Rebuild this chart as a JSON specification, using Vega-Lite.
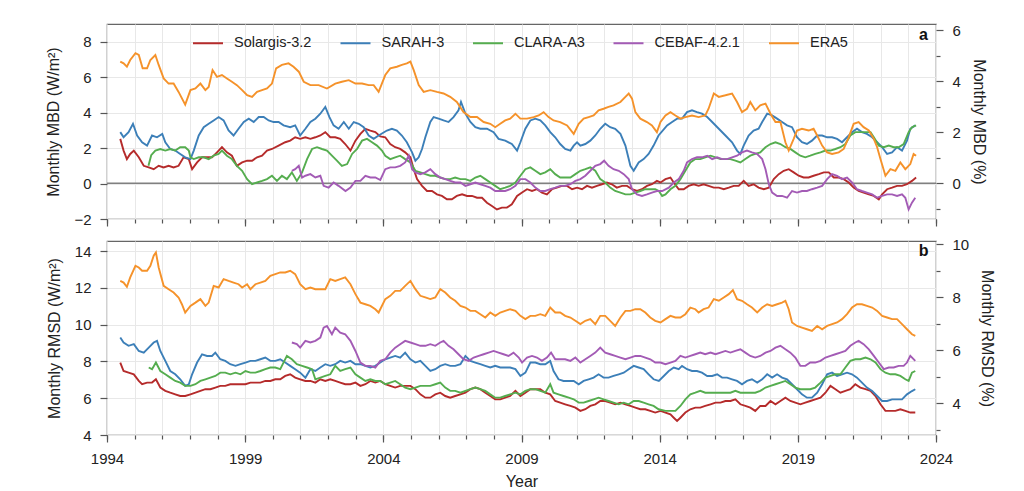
{
"$schema": "https://vega.github.io/schema/vega-lite/v6.json",
"padding": {"left": 45, "top": 22, "right": 5, "bottom": 0},
"spacing": 8,
"config": {
  "font": "Liberation Sans",
  "view": {"stroke": "#666", "strokeWidth": 1.2},
  "axis": {"labelFont": "Liberation Sans", "labelFontSize": 15, "labelColor": "#222", "labelFlush": false, "titleFont": "Liberation Sans", "titleFontSize": 16, "titleFontWeight": "normal", "titleColor": "#222", "tickColor": "#555", "tickWidth": 1.2, "domain": false, "gridColor": "#e8e8e8", "gridWidth": 1}
},
"datasets": {
"mbd": [
{"src":"Solargis-3.2","year":1994.48,"v":2.52},{"src":"Solargis-3.2","year":1994.6,"v":1.86},{"src":"Solargis-3.2","year":1994.72,"v":1.38},{"src":"Solargis-3.2","year":1994.84,"v":1.67},{"src":"Solargis-3.2","year":1994.97,"v":1.86},{"src":"Solargis-3.2","year":1995.15,"v":1.48},{"src":"Solargis-3.2","year":1995.33,"v":1.0},{"src":"Solargis-3.2","year":1995.51,"v":0.91},{"src":"Solargis-3.2","year":1995.69,"v":0.81},{"src":"Solargis-3.2","year":1995.87,"v":1.0},{"src":"Solargis-3.2","year":1996.05,"v":0.91},{"src":"Solargis-3.2","year":1996.23,"v":1.0},{"src":"Solargis-3.2","year":1996.41,"v":0.91},{"src":"Solargis-3.2","year":1996.59,"v":1.0},{"src":"Solargis-3.2","year":1996.77,"v":1.48},{"src":"Solargis-3.2","year":1996.96,"v":1.38},{"src":"Solargis-3.2","year":1997.08,"v":0.81},{"src":"Solargis-3.2","year":1997.26,"v":1.19},{"src":"Solargis-3.2","year":1997.44,"v":1.48},{"src":"Solargis-3.2","year":1997.62,"v":1.48},{"src":"Solargis-3.2","year":1997.8,"v":1.48},{"src":"Solargis-3.2","year":1997.98,"v":1.76},{"src":"Solargis-3.2","year":1998.16,"v":2.05},{"src":"Solargis-3.2","year":1998.34,"v":1.76},{"src":"Solargis-3.2","year":1998.52,"v":1.57},{"src":"Solargis-3.2","year":1998.7,"v":1.0},{"src":"Solargis-3.2","year":1998.89,"v":1.19},{"src":"Solargis-3.2","year":1999.07,"v":1.29},{"src":"Solargis-3.2","year":1999.25,"v":1.29},{"src":"Solargis-3.2","year":1999.43,"v":1.48},{"src":"Solargis-3.2","year":1999.61,"v":1.57},{"src":"Solargis-3.2","year":1999.79,"v":1.86},{"src":"Solargis-3.2","year":1999.97,"v":1.95},{"src":"Solargis-3.2","year":2000.21,"v":2.14},{"src":"Solargis-3.2","year":2000.45,"v":2.33},{"src":"Solargis-3.2","year":2000.63,"v":2.42},{"src":"Solargis-3.2","year":2000.81,"v":2.61},{"src":"Solargis-3.2","year":2000.99,"v":2.52},{"src":"Solargis-3.2","year":2001.18,"v":2.61},{"src":"Solargis-3.2","year":2001.36,"v":2.52},{"src":"Solargis-3.2","year":2001.54,"v":2.61},{"src":"Solargis-3.2","year":2001.72,"v":2.71},{"src":"Solargis-3.2","year":2001.9,"v":2.9},{"src":"Solargis-3.2","year":2002.08,"v":2.61},{"src":"Solargis-3.2","year":2002.26,"v":2.61},{"src":"Solargis-3.2","year":2002.44,"v":2.52},{"src":"Solargis-3.2","year":2002.62,"v":2.23},{"src":"Solargis-3.2","year":2002.81,"v":1.86},{"src":"Solargis-3.2","year":2002.99,"v":2.42},{"src":"Solargis-3.2","year":2003.17,"v":2.8},{"src":"Solargis-3.2","year":2003.35,"v":3.09},{"src":"Solargis-3.2","year":2003.53,"v":2.99},{"src":"Solargis-3.2","year":2003.71,"v":2.9},{"src":"Solargis-3.2","year":2003.89,"v":2.66},{"src":"Solargis-3.2","year":2004.07,"v":2.61},{"src":"Solargis-3.2","year":2004.25,"v":2.23},{"src":"Solargis-3.2","year":2004.43,"v":2.05},{"src":"Solargis-3.2","year":2004.61,"v":1.95},{"src":"Solargis-3.2","year":2004.79,"v":1.76},{"src":"Solargis-3.2","year":2004.98,"v":1.48},{"src":"Solargis-3.2","year":2005.1,"v":0.81},{"src":"Solargis-3.2","year":2005.22,"v":0.25},{"src":"Solargis-3.2","year":2005.4,"v":-0.13},{"src":"Solargis-3.2","year":2005.58,"v":-0.42},{"src":"Solargis-3.2","year":2005.76,"v":-0.42},{"src":"Solargis-3.2","year":2005.94,"v":-0.61},{"src":"Solargis-3.2","year":2006.12,"v":-0.7},{"src":"Solargis-3.2","year":2006.3,"v":-0.89},{"src":"Solargis-3.2","year":2006.48,"v":-0.89},{"src":"Solargis-3.2","year":2006.66,"v":-0.7},{"src":"Solargis-3.2","year":2006.85,"v":-0.61},{"src":"Solargis-3.2","year":2007.03,"v":-0.7},{"src":"Solargis-3.2","year":2007.21,"v":-0.7},{"src":"Solargis-3.2","year":2007.39,"v":-0.8},{"src":"Solargis-3.2","year":2007.57,"v":-0.8},{"src":"Solargis-3.2","year":2007.75,"v":-1.08},{"src":"Solargis-3.2","year":2007.93,"v":-1.27},{"src":"Solargis-3.2","year":2008.11,"v":-1.46},{"src":"Solargis-3.2","year":2008.29,"v":-1.36},{"src":"Solargis-3.2","year":2008.47,"v":-1.36},{"src":"Solargis-3.2","year":2008.65,"v":-1.17},{"src":"Solargis-3.2","year":2008.84,"v":-0.7},{"src":"Solargis-3.2","year":2009.02,"v":-0.51},{"src":"Solargis-3.2","year":2009.2,"v":-0.32},{"src":"Solargis-3.2","year":2009.38,"v":-0.42},{"src":"Solargis-3.2","year":2009.56,"v":-0.32},{"src":"Solargis-3.2","year":2009.74,"v":-0.51},{"src":"Solargis-3.2","year":2009.92,"v":-0.61},{"src":"Solargis-3.2","year":2010.1,"v":-0.32},{"src":"Solargis-3.2","year":2010.28,"v":-0.23},{"src":"Solargis-3.2","year":2010.46,"v":-0.13},{"src":"Solargis-3.2","year":2010.65,"v":-0.13},{"src":"Solargis-3.2","year":2010.83,"v":-0.32},{"src":"Solargis-3.2","year":2011.01,"v":-0.23},{"src":"Solargis-3.2","year":2011.19,"v":-0.32},{"src":"Solargis-3.2","year":2011.37,"v":-0.13},{"src":"Solargis-3.2","year":2011.55,"v":-0.23},{"src":"Solargis-3.2","year":2011.73,"v":-0.13},{"src":"Solargis-3.2","year":2011.91,"v":-0.04},{"src":"Solargis-3.2","year":2012.09,"v":0.06},{"src":"Solargis-3.2","year":2012.27,"v":-0.04},{"src":"Solargis-3.2","year":2012.45,"v":-0.23},{"src":"Solargis-3.2","year":2012.64,"v":-0.13},{"src":"Solargis-3.2","year":2012.82,"v":-0.13},{"src":"Solargis-3.2","year":2013.0,"v":-0.32},{"src":"Solargis-3.2","year":2013.18,"v":-0.42},{"src":"Solargis-3.2","year":2013.36,"v":-0.32},{"src":"Solargis-3.2","year":2013.54,"v":-0.13},{"src":"Solargis-3.2","year":2013.72,"v":-0.04},{"src":"Solargis-3.2","year":2013.9,"v":0.15},{"src":"Solargis-3.2","year":2014.03,"v":0.06},{"src":"Solargis-3.2","year":2014.21,"v":0.25},{"src":"Solargis-3.2","year":2014.39,"v":0.34},{"src":"Solargis-3.2","year":2014.51,"v":0.06},{"src":"Solargis-3.2","year":2014.69,"v":-0.32},{"src":"Solargis-3.2","year":2014.87,"v":-0.32},{"src":"Solargis-3.2","year":2015.05,"v":-0.13},{"src":"Solargis-3.2","year":2015.23,"v":-0.04},{"src":"Solargis-3.2","year":2015.41,"v":-0.13},{"src":"Solargis-3.2","year":2015.59,"v":-0.04},{"src":"Solargis-3.2","year":2015.77,"v":-0.13},{"src":"Solargis-3.2","year":2015.96,"v":-0.23},{"src":"Solargis-3.2","year":2016.14,"v":-0.23},{"src":"Solargis-3.2","year":2016.32,"v":-0.32},{"src":"Solargis-3.2","year":2016.5,"v":-0.23},{"src":"Solargis-3.2","year":2016.68,"v":-0.13},{"src":"Solargis-3.2","year":2016.86,"v":-0.13},{"src":"Solargis-3.2","year":2017.04,"v":0.15},{"src":"Solargis-3.2","year":2017.22,"v":-0.13},{"src":"Solargis-3.2","year":2017.4,"v":-0.04},{"src":"Solargis-3.2","year":2017.58,"v":-0.23},{"src":"Solargis-3.2","year":2017.77,"v":-0.32},{"src":"Solargis-3.2","year":2017.95,"v":-0.23},{"src":"Solargis-3.2","year":2018.13,"v":0.25},{"src":"Solargis-3.2","year":2018.31,"v":0.53},{"src":"Solargis-3.2","year":2018.49,"v":0.72},{"src":"Solargis-3.2","year":2018.67,"v":0.81},{"src":"Solargis-3.2","year":2018.85,"v":0.63},{"src":"Solargis-3.2","year":2019.03,"v":0.44},{"src":"Solargis-3.2","year":2019.21,"v":0.34},{"src":"Solargis-3.2","year":2019.39,"v":0.34},{"src":"Solargis-3.2","year":2019.57,"v":0.44},{"src":"Solargis-3.2","year":2019.76,"v":0.53},{"src":"Solargis-3.2","year":2019.94,"v":0.63},{"src":"Solargis-3.2","year":2020.12,"v":0.63},{"src":"Solargis-3.2","year":2020.3,"v":0.34},{"src":"Solargis-3.2","year":2020.48,"v":0.34},{"src":"Solargis-3.2","year":2020.66,"v":0.25},{"src":"Solargis-3.2","year":2020.84,"v":0.06},{"src":"Solargis-3.2","year":2021.02,"v":-0.23},{"src":"Solargis-3.2","year":2021.2,"v":-0.42},{"src":"Solargis-3.2","year":2021.38,"v":-0.51},{"src":"Solargis-3.2","year":2021.57,"v":-0.61},{"src":"Solargis-3.2","year":2021.75,"v":-0.7},{"src":"Solargis-3.2","year":2021.93,"v":-0.89},{"src":"Solargis-3.2","year":2022.05,"v":-0.61},{"src":"Solargis-3.2","year":2022.23,"v":-0.32},{"src":"Solargis-3.2","year":2022.41,"v":-0.23},{"src":"Solargis-3.2","year":2022.59,"v":-0.13},{"src":"Solargis-3.2","year":2022.77,"v":-0.13},{"src":"Solargis-3.2","year":2022.95,"v":-0.04},{"src":"Solargis-3.2","year":2023.13,"v":0.15},{"src":"Solargis-3.2","year":2023.28,"v":0.34},
{"src":"SARAH-3","year":1994.48,"v":2.9},{"src":"SARAH-3","year":1994.6,"v":2.61},{"src":"SARAH-3","year":1994.78,"v":2.9},{"src":"SARAH-3","year":1994.94,"v":3.37},{"src":"SARAH-3","year":1995.09,"v":2.71},{"src":"SARAH-3","year":1995.27,"v":2.33},{"src":"SARAH-3","year":1995.45,"v":2.14},{"src":"SARAH-3","year":1995.63,"v":2.71},{"src":"SARAH-3","year":1995.81,"v":2.61},{"src":"SARAH-3","year":1996.0,"v":2.8},{"src":"SARAH-3","year":1996.11,"v":2.33},{"src":"SARAH-3","year":1996.29,"v":1.95},{"src":"SARAH-3","year":1996.47,"v":1.86},{"src":"SARAH-3","year":1996.65,"v":1.67},{"src":"SARAH-3","year":1996.83,"v":1.48},{"src":"SARAH-3","year":1997.02,"v":1.38},{"src":"SARAH-3","year":1997.14,"v":1.86},{"src":"SARAH-3","year":1997.32,"v":2.71},{"src":"SARAH-3","year":1997.5,"v":3.18},{"src":"SARAH-3","year":1997.68,"v":3.37},{"src":"SARAH-3","year":1997.86,"v":3.56},{"src":"SARAH-3","year":1998.04,"v":3.75},{"src":"SARAH-3","year":1998.22,"v":3.56},{"src":"SARAH-3","year":1998.4,"v":2.99},{"src":"SARAH-3","year":1998.58,"v":2.71},{"src":"SARAH-3","year":1998.76,"v":3.09},{"src":"SARAH-3","year":1998.95,"v":3.47},{"src":"SARAH-3","year":1999.13,"v":3.66},{"src":"SARAH-3","year":1999.31,"v":3.47},{"src":"SARAH-3","year":1999.49,"v":3.75},{"src":"SARAH-3","year":1999.67,"v":3.75},{"src":"SARAH-3","year":1999.85,"v":3.56},{"src":"SARAH-3","year":2000.03,"v":3.47},{"src":"SARAH-3","year":2000.21,"v":3.47},{"src":"SARAH-3","year":2000.39,"v":3.28},{"src":"SARAH-3","year":2000.63,"v":3.18},{"src":"SARAH-3","year":2000.81,"v":3.28},{"src":"SARAH-3","year":2000.99,"v":2.71},{"src":"SARAH-3","year":2001.18,"v":3.09},{"src":"SARAH-3","year":2001.36,"v":3.47},{"src":"SARAH-3","year":2001.54,"v":3.66},{"src":"SARAH-3","year":2001.72,"v":3.94},{"src":"SARAH-3","year":2001.9,"v":4.32},{"src":"SARAH-3","year":2002.05,"v":3.75},{"src":"SARAH-3","year":2002.2,"v":3.28},{"src":"SARAH-3","year":2002.38,"v":3.09},{"src":"SARAH-3","year":2002.57,"v":3.47},{"src":"SARAH-3","year":2002.75,"v":3.09},{"src":"SARAH-3","year":2002.93,"v":3.47},{"src":"SARAH-3","year":2003.11,"v":3.37},{"src":"SARAH-3","year":2003.29,"v":3.18},{"src":"SARAH-3","year":2003.47,"v":2.71},{"src":"SARAH-3","year":2003.65,"v":2.52},{"src":"SARAH-3","year":2003.83,"v":2.71},{"src":"SARAH-3","year":2004.13,"v":2.99},{"src":"SARAH-3","year":2004.31,"v":3.09},{"src":"SARAH-3","year":2004.49,"v":2.99},{"src":"SARAH-3","year":2004.67,"v":2.71},{"src":"SARAH-3","year":2004.85,"v":2.33},{"src":"SARAH-3","year":2005.04,"v":1.76},{"src":"SARAH-3","year":2005.16,"v":1.29},{"src":"SARAH-3","year":2005.28,"v":1.48},{"src":"SARAH-3","year":2005.4,"v":1.95},{"src":"SARAH-3","year":2005.52,"v":2.61},{"src":"SARAH-3","year":2005.7,"v":3.47},{"src":"SARAH-3","year":2005.82,"v":3.75},{"src":"SARAH-3","year":2006.0,"v":3.66},{"src":"SARAH-3","year":2006.18,"v":3.56},{"src":"SARAH-3","year":2006.36,"v":3.47},{"src":"SARAH-3","year":2006.54,"v":3.75},{"src":"SARAH-3","year":2006.72,"v":4.13},{"src":"SARAH-3","year":2006.81,"v":4.6},{"src":"SARAH-3","year":2006.97,"v":3.94},{"src":"SARAH-3","year":2007.15,"v":3.47},{"src":"SARAH-3","year":2007.33,"v":3.18},{"src":"SARAH-3","year":2007.51,"v":3.09},{"src":"SARAH-3","year":2007.75,"v":3.09},{"src":"SARAH-3","year":2007.99,"v":2.9},{"src":"SARAH-3","year":2008.17,"v":2.52},{"src":"SARAH-3","year":2008.41,"v":2.42},{"src":"SARAH-3","year":2008.65,"v":2.23},{"src":"SARAH-3","year":2008.84,"v":1.86},{"src":"SARAH-3","year":2008.96,"v":2.33},{"src":"SARAH-3","year":2009.14,"v":3.09},{"src":"SARAH-3","year":2009.32,"v":3.56},{"src":"SARAH-3","year":2009.5,"v":3.66},{"src":"SARAH-3","year":2009.68,"v":3.56},{"src":"SARAH-3","year":2009.86,"v":3.28},{"src":"SARAH-3","year":2010.04,"v":2.9},{"src":"SARAH-3","year":2010.22,"v":2.61},{"src":"SARAH-3","year":2010.4,"v":2.23},{"src":"SARAH-3","year":2010.58,"v":1.95},{"src":"SARAH-3","year":2010.77,"v":1.86},{"src":"SARAH-3","year":2010.89,"v":2.14},{"src":"SARAH-3","year":2011.01,"v":2.33},{"src":"SARAH-3","year":2011.13,"v":2.14},{"src":"SARAH-3","year":2011.31,"v":2.23},{"src":"SARAH-3","year":2011.49,"v":2.42},{"src":"SARAH-3","year":2011.67,"v":2.71},{"src":"SARAH-3","year":2011.85,"v":3.09},{"src":"SARAH-3","year":2012.03,"v":3.37},{"src":"SARAH-3","year":2012.21,"v":3.18},{"src":"SARAH-3","year":2012.39,"v":3.09},{"src":"SARAH-3","year":2012.58,"v":2.8},{"src":"SARAH-3","year":2012.76,"v":2.14},{"src":"SARAH-3","year":2012.94,"v":1.0},{"src":"SARAH-3","year":2013.06,"v":0.72},{"src":"SARAH-3","year":2013.24,"v":1.19},{"src":"SARAH-3","year":2013.42,"v":1.38},{"src":"SARAH-3","year":2013.6,"v":1.67},{"src":"SARAH-3","year":2013.78,"v":2.14},{"src":"SARAH-3","year":2013.96,"v":2.71},{"src":"SARAH-3","year":2014.27,"v":3.28},{"src":"SARAH-3","year":2014.45,"v":3.47},{"src":"SARAH-3","year":2014.63,"v":3.66},{"src":"SARAH-3","year":2014.81,"v":3.66},{"src":"SARAH-3","year":2014.99,"v":4.03},{"src":"SARAH-3","year":2015.17,"v":4.13},{"src":"SARAH-3","year":2015.35,"v":4.03},{"src":"SARAH-3","year":2015.53,"v":3.94},{"src":"SARAH-3","year":2015.72,"v":3.75},{"src":"SARAH-3","year":2015.9,"v":3.47},{"src":"SARAH-3","year":2016.14,"v":3.09},{"src":"SARAH-3","year":2016.38,"v":2.71},{"src":"SARAH-3","year":2016.62,"v":2.33},{"src":"SARAH-3","year":2016.8,"v":1.86},{"src":"SARAH-3","year":2016.92,"v":1.67},{"src":"SARAH-3","year":2017.04,"v":2.14},{"src":"SARAH-3","year":2017.22,"v":2.71},{"src":"SARAH-3","year":2017.4,"v":2.99},{"src":"SARAH-3","year":2017.58,"v":3.09},{"src":"SARAH-3","year":2017.71,"v":3.47},{"src":"SARAH-3","year":2017.89,"v":3.94},{"src":"SARAH-3","year":2018.07,"v":3.84},{"src":"SARAH-3","year":2018.25,"v":3.66},{"src":"SARAH-3","year":2018.43,"v":3.47},{"src":"SARAH-3","year":2018.61,"v":3.28},{"src":"SARAH-3","year":2018.79,"v":3.18},{"src":"SARAH-3","year":2018.97,"v":2.61},{"src":"SARAH-3","year":2019.15,"v":2.33},{"src":"SARAH-3","year":2019.33,"v":2.23},{"src":"SARAH-3","year":2019.51,"v":2.42},{"src":"SARAH-3","year":2019.7,"v":2.71},{"src":"SARAH-3","year":2019.88,"v":2.71},{"src":"SARAH-3","year":2020.06,"v":2.61},{"src":"SARAH-3","year":2020.24,"v":2.61},{"src":"SARAH-3","year":2020.42,"v":2.52},{"src":"SARAH-3","year":2020.6,"v":2.33},{"src":"SARAH-3","year":2020.78,"v":2.61},{"src":"SARAH-3","year":2020.96,"v":2.9},{"src":"SARAH-3","year":2021.14,"v":3.09},{"src":"SARAH-3","year":2021.32,"v":2.9},{"src":"SARAH-3","year":2021.5,"v":2.8},{"src":"SARAH-3","year":2021.69,"v":2.61},{"src":"SARAH-3","year":2021.87,"v":2.33},{"src":"SARAH-3","year":2022.05,"v":2.05},{"src":"SARAH-3","year":2022.23,"v":1.67},{"src":"SARAH-3","year":2022.41,"v":1.76},{"src":"SARAH-3","year":2022.59,"v":2.05},{"src":"SARAH-3","year":2022.77,"v":1.86},{"src":"SARAH-3","year":2022.95,"v":2.42},{"src":"SARAH-3","year":2023.07,"v":3.09},{"src":"SARAH-3","year":2023.25,"v":3.28},
{"src":"CLARA-A3","year":1995.5,"v":1.0},{"src":"CLARA-A3","year":1995.6,"v":1.6},{"src":"CLARA-A3","year":1995.75,"v":1.86},{"src":"CLARA-A3","year":1995.93,"v":1.95},{"src":"CLARA-A3","year":1996.11,"v":1.86},{"src":"CLARA-A3","year":1996.29,"v":1.95},{"src":"CLARA-A3","year":1996.47,"v":1.86},{"src":"CLARA-A3","year":1996.65,"v":2.05},{"src":"CLARA-A3","year":1996.83,"v":2.05},{"src":"CLARA-A3","year":1996.96,"v":1.86},{"src":"CLARA-A3","year":1997.02,"v":1.48},{"src":"CLARA-A3","year":1997.14,"v":1.38},{"src":"CLARA-A3","year":1997.32,"v":1.48},{"src":"CLARA-A3","year":1997.5,"v":1.48},{"src":"CLARA-A3","year":1997.68,"v":1.38},{"src":"CLARA-A3","year":1997.86,"v":1.57},{"src":"CLARA-A3","year":1998.04,"v":1.67},{"src":"CLARA-A3","year":1998.16,"v":1.86},{"src":"CLARA-A3","year":1998.34,"v":1.57},{"src":"CLARA-A3","year":1998.52,"v":1.38},{"src":"CLARA-A3","year":1998.7,"v":1.0},{"src":"CLARA-A3","year":1998.89,"v":0.72},{"src":"CLARA-A3","year":1999.07,"v":0.25},{"src":"CLARA-A3","year":1999.25,"v":-0.04},{"src":"CLARA-A3","year":1999.43,"v":0.06},{"src":"CLARA-A3","year":1999.61,"v":0.15},{"src":"CLARA-A3","year":1999.79,"v":0.25},{"src":"CLARA-A3","year":1999.97,"v":0.44},{"src":"CLARA-A3","year":2000.15,"v":0.15},{"src":"CLARA-A3","year":2000.33,"v":0.44},{"src":"CLARA-A3","year":2000.51,"v":0.25},{"src":"CLARA-A3","year":2000.69,"v":0.63},{"src":"CLARA-A3","year":2000.87,"v":0.15},{"src":"CLARA-A3","year":2001.06,"v":0.63},{"src":"CLARA-A3","year":2001.24,"v":1.38},{"src":"CLARA-A3","year":2001.42,"v":1.95},{"src":"CLARA-A3","year":2001.6,"v":2.05},{"src":"CLARA-A3","year":2001.78,"v":1.95},{"src":"CLARA-A3","year":2001.96,"v":1.86},{"src":"CLARA-A3","year":2002.14,"v":1.57},{"src":"CLARA-A3","year":2002.32,"v":1.29},{"src":"CLARA-A3","year":2002.5,"v":1.0},{"src":"CLARA-A3","year":2002.69,"v":1.1},{"src":"CLARA-A3","year":2002.87,"v":1.67},{"src":"CLARA-A3","year":2003.05,"v":1.95},{"src":"CLARA-A3","year":2003.23,"v":2.42},{"src":"CLARA-A3","year":2003.41,"v":2.52},{"src":"CLARA-A3","year":2003.59,"v":2.33},{"src":"CLARA-A3","year":2003.77,"v":2.14},{"src":"CLARA-A3","year":2003.95,"v":1.86},{"src":"CLARA-A3","year":2004.07,"v":1.57},{"src":"CLARA-A3","year":2004.25,"v":1.38},{"src":"CLARA-A3","year":2004.43,"v":1.48},{"src":"CLARA-A3","year":2004.61,"v":1.57},{"src":"CLARA-A3","year":2004.79,"v":1.38},{"src":"CLARA-A3","year":2004.98,"v":1.19},{"src":"CLARA-A3","year":2005.16,"v":0.72},{"src":"CLARA-A3","year":2005.34,"v":0.63},{"src":"CLARA-A3","year":2005.52,"v":0.53},{"src":"CLARA-A3","year":2005.7,"v":0.44},{"src":"CLARA-A3","year":2005.88,"v":0.44},{"src":"CLARA-A3","year":2006.06,"v":0.34},{"src":"CLARA-A3","year":2006.24,"v":0.25},{"src":"CLARA-A3","year":2006.42,"v":0.25},{"src":"CLARA-A3","year":2006.6,"v":0.34},{"src":"CLARA-A3","year":2006.79,"v":0.25},{"src":"CLARA-A3","year":2006.97,"v":0.25},{"src":"CLARA-A3","year":2007.15,"v":0.15},{"src":"CLARA-A3","year":2007.33,"v":0.34},{"src":"CLARA-A3","year":2007.51,"v":0.44},{"src":"CLARA-A3","year":2007.69,"v":0.25},{"src":"CLARA-A3","year":2007.87,"v":0.06},{"src":"CLARA-A3","year":2008.05,"v":-0.13},{"src":"CLARA-A3","year":2008.23,"v":-0.32},{"src":"CLARA-A3","year":2008.41,"v":-0.23},{"src":"CLARA-A3","year":2008.59,"v":-0.13},{"src":"CLARA-A3","year":2008.78,"v":0.06},{"src":"CLARA-A3","year":2008.96,"v":0.44},{"src":"CLARA-A3","year":2009.14,"v":0.81},{"src":"CLARA-A3","year":2009.32,"v":0.91},{"src":"CLARA-A3","year":2009.5,"v":0.72},{"src":"CLARA-A3","year":2009.68,"v":0.53},{"src":"CLARA-A3","year":2009.86,"v":0.63},{"src":"CLARA-A3","year":2010.04,"v":0.81},{"src":"CLARA-A3","year":2010.22,"v":0.53},{"src":"CLARA-A3","year":2010.4,"v":0.34},{"src":"CLARA-A3","year":2010.58,"v":0.34},{"src":"CLARA-A3","year":2010.77,"v":0.34},{"src":"CLARA-A3","year":2010.95,"v":0.53},{"src":"CLARA-A3","year":2011.13,"v":0.72},{"src":"CLARA-A3","year":2011.31,"v":0.81},{"src":"CLARA-A3","year":2011.49,"v":0.91},{"src":"CLARA-A3","year":2011.67,"v":0.72},{"src":"CLARA-A3","year":2011.85,"v":0.25},{"src":"CLARA-A3","year":2012.03,"v":0.06},{"src":"CLARA-A3","year":2012.21,"v":-0.23},{"src":"CLARA-A3","year":2012.39,"v":-0.42},{"src":"CLARA-A3","year":2012.58,"v":-0.51},{"src":"CLARA-A3","year":2012.76,"v":-0.61},{"src":"CLARA-A3","year":2012.94,"v":-0.61},{"src":"CLARA-A3","year":2013.12,"v":-0.51},{"src":"CLARA-A3","year":2013.3,"v":-0.42},{"src":"CLARA-A3","year":2013.48,"v":-0.32},{"src":"CLARA-A3","year":2013.66,"v":-0.32},{"src":"CLARA-A3","year":2013.84,"v":-0.32},{"src":"CLARA-A3","year":2013.97,"v":-0.42},{"src":"CLARA-A3","year":2014.09,"v":-0.7},{"src":"CLARA-A3","year":2014.21,"v":-0.61},{"src":"CLARA-A3","year":2014.39,"v":-0.32},{"src":"CLARA-A3","year":2014.57,"v":-0.13},{"src":"CLARA-A3","year":2014.75,"v":0.25},{"src":"CLARA-A3","year":2014.93,"v":0.72},{"src":"CLARA-A3","year":2015.11,"v":1.19},{"src":"CLARA-A3","year":2015.29,"v":1.38},{"src":"CLARA-A3","year":2015.47,"v":1.38},{"src":"CLARA-A3","year":2015.65,"v":1.48},{"src":"CLARA-A3","year":2015.84,"v":1.57},{"src":"CLARA-A3","year":2016.02,"v":1.48},{"src":"CLARA-A3","year":2016.2,"v":1.38},{"src":"CLARA-A3","year":2016.38,"v":1.38},{"src":"CLARA-A3","year":2016.56,"v":1.38},{"src":"CLARA-A3","year":2016.74,"v":1.29},{"src":"CLARA-A3","year":2016.92,"v":1.19},{"src":"CLARA-A3","year":2017.1,"v":1.38},{"src":"CLARA-A3","year":2017.28,"v":1.57},{"src":"CLARA-A3","year":2017.46,"v":1.67},{"src":"CLARA-A3","year":2017.64,"v":1.76},{"src":"CLARA-A3","year":2017.83,"v":2.05},{"src":"CLARA-A3","year":2018.01,"v":2.23},{"src":"CLARA-A3","year":2018.19,"v":2.33},{"src":"CLARA-A3","year":2018.37,"v":2.23},{"src":"CLARA-A3","year":2018.55,"v":2.05},{"src":"CLARA-A3","year":2018.73,"v":1.95},{"src":"CLARA-A3","year":2018.91,"v":1.76},{"src":"CLARA-A3","year":2019.09,"v":1.57},{"src":"CLARA-A3","year":2019.27,"v":1.48},{"src":"CLARA-A3","year":2019.45,"v":1.57},{"src":"CLARA-A3","year":2019.63,"v":1.67},{"src":"CLARA-A3","year":2019.82,"v":1.76},{"src":"CLARA-A3","year":2020.0,"v":1.86},{"src":"CLARA-A3","year":2020.18,"v":1.86},{"src":"CLARA-A3","year":2020.36,"v":1.95},{"src":"CLARA-A3","year":2020.54,"v":2.05},{"src":"CLARA-A3","year":2020.72,"v":2.23},{"src":"CLARA-A3","year":2020.9,"v":2.71},{"src":"CLARA-A3","year":2021.08,"v":2.9},{"src":"CLARA-A3","year":2021.26,"v":2.9},{"src":"CLARA-A3","year":2021.45,"v":2.9},{"src":"CLARA-A3","year":2021.63,"v":2.9},{"src":"CLARA-A3","year":2021.75,"v":2.61},{"src":"CLARA-A3","year":2021.93,"v":2.14},{"src":"CLARA-A3","year":2022.11,"v":2.05},{"src":"CLARA-A3","year":2022.29,"v":2.14},{"src":"CLARA-A3","year":2022.47,"v":2.05},{"src":"CLARA-A3","year":2022.65,"v":2.05},{"src":"CLARA-A3","year":2022.83,"v":2.23},{"src":"CLARA-A3","year":2023.01,"v":2.9},{"src":"CLARA-A3","year":2023.13,"v":3.18},{"src":"CLARA-A3","year":2023.28,"v":3.28},
{"src":"CEBAF-4.2.1","year":2000.69,"v":0.72},{"src":"CEBAF-4.2.1","year":2000.81,"v":0.81},{"src":"CEBAF-4.2.1","year":2000.94,"v":1.0},{"src":"CEBAF-4.2.1","year":2001.06,"v":0.34},{"src":"CEBAF-4.2.1","year":2001.18,"v":0.44},{"src":"CEBAF-4.2.1","year":2001.36,"v":0.53},{"src":"CEBAF-4.2.1","year":2001.54,"v":0.34},{"src":"CEBAF-4.2.1","year":2001.72,"v":0.44},{"src":"CEBAF-4.2.1","year":2001.84,"v":-0.13},{"src":"CEBAF-4.2.1","year":2002.02,"v":-0.23},{"src":"CEBAF-4.2.1","year":2002.2,"v":0.06},{"src":"CEBAF-4.2.1","year":2002.38,"v":-0.13},{"src":"CEBAF-4.2.1","year":2002.63,"v":-0.42},{"src":"CEBAF-4.2.1","year":2002.81,"v":-0.23},{"src":"CEBAF-4.2.1","year":2002.99,"v":0.15},{"src":"CEBAF-4.2.1","year":2003.17,"v":0.15},{"src":"CEBAF-4.2.1","year":2003.35,"v":0.44},{"src":"CEBAF-4.2.1","year":2003.53,"v":0.34},{"src":"CEBAF-4.2.1","year":2003.71,"v":0.34},{"src":"CEBAF-4.2.1","year":2003.89,"v":0.2},{"src":"CEBAF-4.2.1","year":2004.07,"v":0.81},{"src":"CEBAF-4.2.1","year":2004.25,"v":0.91},{"src":"CEBAF-4.2.1","year":2004.43,"v":0.91},{"src":"CEBAF-4.2.1","year":2004.61,"v":1.0},{"src":"CEBAF-4.2.1","year":2004.79,"v":1.19},{"src":"CEBAF-4.2.1","year":2004.92,"v":1.57},{"src":"CEBAF-4.2.1","year":2005.04,"v":0.81},{"src":"CEBAF-4.2.1","year":2005.16,"v":0.63},{"src":"CEBAF-4.2.1","year":2005.34,"v":0.53},{"src":"CEBAF-4.2.1","year":2005.52,"v":0.63},{"src":"CEBAF-4.2.1","year":2005.7,"v":0.81},{"src":"CEBAF-4.2.1","year":2005.88,"v":0.53},{"src":"CEBAF-4.2.1","year":2006.06,"v":0.34},{"src":"CEBAF-4.2.1","year":2006.24,"v":0.25},{"src":"CEBAF-4.2.1","year":2006.42,"v":0.15},{"src":"CEBAF-4.2.1","year":2006.6,"v":0.06},{"src":"CEBAF-4.2.1","year":2006.79,"v":0.06},{"src":"CEBAF-4.2.1","year":2006.97,"v":-0.13},{"src":"CEBAF-4.2.1","year":2007.15,"v":-0.04},{"src":"CEBAF-4.2.1","year":2007.33,"v":0.06},{"src":"CEBAF-4.2.1","year":2007.51,"v":-0.04},{"src":"CEBAF-4.2.1","year":2007.69,"v":-0.13},{"src":"CEBAF-4.2.1","year":2007.87,"v":-0.23},{"src":"CEBAF-4.2.1","year":2008.05,"v":-0.42},{"src":"CEBAF-4.2.1","year":2008.23,"v":-0.42},{"src":"CEBAF-4.2.1","year":2008.41,"v":-0.42},{"src":"CEBAF-4.2.1","year":2008.59,"v":-0.32},{"src":"CEBAF-4.2.1","year":2008.78,"v":-0.13},{"src":"CEBAF-4.2.1","year":2008.96,"v":0.25},{"src":"CEBAF-4.2.1","year":2009.14,"v":0.25},{"src":"CEBAF-4.2.1","year":2009.32,"v":0.06},{"src":"CEBAF-4.2.1","year":2009.5,"v":-0.23},{"src":"CEBAF-4.2.1","year":2009.68,"v":-0.42},{"src":"CEBAF-4.2.1","year":2009.86,"v":-0.42},{"src":"CEBAF-4.2.1","year":2010.04,"v":-0.32},{"src":"CEBAF-4.2.1","year":2010.22,"v":-0.23},{"src":"CEBAF-4.2.1","year":2010.4,"v":-0.13},{"src":"CEBAF-4.2.1","year":2010.58,"v":-0.13},{"src":"CEBAF-4.2.1","year":2010.77,"v":-0.04},{"src":"CEBAF-4.2.1","year":2010.95,"v":0.15},{"src":"CEBAF-4.2.1","year":2011.13,"v":0.25},{"src":"CEBAF-4.2.1","year":2011.31,"v":0.44},{"src":"CEBAF-4.2.1","year":2011.49,"v":0.72},{"src":"CEBAF-4.2.1","year":2011.67,"v":1.0},{"src":"CEBAF-4.2.1","year":2011.85,"v":1.1},{"src":"CEBAF-4.2.1","year":2011.99,"v":1.29},{"src":"CEBAF-4.2.1","year":2012.15,"v":1.0},{"src":"CEBAF-4.2.1","year":2012.33,"v":0.81},{"src":"CEBAF-4.2.1","year":2012.52,"v":0.72},{"src":"CEBAF-4.2.1","year":2012.7,"v":0.53},{"src":"CEBAF-4.2.1","year":2012.88,"v":0.25},{"src":"CEBAF-4.2.1","year":2013.0,"v":-0.32},{"src":"CEBAF-4.2.1","year":2013.18,"v":-0.61},{"src":"CEBAF-4.2.1","year":2013.36,"v":-0.7},{"src":"CEBAF-4.2.1","year":2013.54,"v":-0.61},{"src":"CEBAF-4.2.1","year":2013.72,"v":-0.51},{"src":"CEBAF-4.2.1","year":2013.9,"v":-0.42},{"src":"CEBAF-4.2.1","year":2014.09,"v":-0.42},{"src":"CEBAF-4.2.1","year":2014.33,"v":-0.23},{"src":"CEBAF-4.2.1","year":2014.51,"v":0.06},{"src":"CEBAF-4.2.1","year":2014.69,"v":0.25},{"src":"CEBAF-4.2.1","year":2014.87,"v":0.72},{"src":"CEBAF-4.2.1","year":2014.99,"v":1.19},{"src":"CEBAF-4.2.1","year":2015.17,"v":1.38},{"src":"CEBAF-4.2.1","year":2015.35,"v":1.48},{"src":"CEBAF-4.2.1","year":2015.53,"v":1.48},{"src":"CEBAF-4.2.1","year":2015.72,"v":1.57},{"src":"CEBAF-4.2.1","year":2015.9,"v":1.38},{"src":"CEBAF-4.2.1","year":2016.08,"v":1.48},{"src":"CEBAF-4.2.1","year":2016.26,"v":1.38},{"src":"CEBAF-4.2.1","year":2016.44,"v":1.38},{"src":"CEBAF-4.2.1","year":2016.62,"v":1.48},{"src":"CEBAF-4.2.1","year":2016.8,"v":1.57},{"src":"CEBAF-4.2.1","year":2016.98,"v":1.76},{"src":"CEBAF-4.2.1","year":2017.16,"v":1.86},{"src":"CEBAF-4.2.1","year":2017.34,"v":1.76},{"src":"CEBAF-4.2.1","year":2017.52,"v":1.67},{"src":"CEBAF-4.2.1","year":2017.71,"v":1.38},{"src":"CEBAF-4.2.1","year":2017.83,"v":0.81},{"src":"CEBAF-4.2.1","year":2017.95,"v":-0.04},{"src":"CEBAF-4.2.1","year":2018.07,"v":-0.51},{"src":"CEBAF-4.2.1","year":2018.25,"v":-0.7},{"src":"CEBAF-4.2.1","year":2018.43,"v":-0.7},{"src":"CEBAF-4.2.1","year":2018.61,"v":-0.8},{"src":"CEBAF-4.2.1","year":2018.79,"v":-0.42},{"src":"CEBAF-4.2.1","year":2018.97,"v":-0.51},{"src":"CEBAF-4.2.1","year":2019.15,"v":-0.42},{"src":"CEBAF-4.2.1","year":2019.33,"v":-0.42},{"src":"CEBAF-4.2.1","year":2019.51,"v":-0.32},{"src":"CEBAF-4.2.1","year":2019.7,"v":-0.23},{"src":"CEBAF-4.2.1","year":2019.88,"v":-0.13},{"src":"CEBAF-4.2.1","year":2020.06,"v":0.25},{"src":"CEBAF-4.2.1","year":2020.24,"v":0.53},{"src":"CEBAF-4.2.1","year":2020.42,"v":0.44},{"src":"CEBAF-4.2.1","year":2020.6,"v":0.25},{"src":"CEBAF-4.2.1","year":2020.78,"v":0.34},{"src":"CEBAF-4.2.1","year":2020.96,"v":0.06},{"src":"CEBAF-4.2.1","year":2021.14,"v":-0.32},{"src":"CEBAF-4.2.1","year":2021.32,"v":-0.42},{"src":"CEBAF-4.2.1","year":2021.5,"v":-0.51},{"src":"CEBAF-4.2.1","year":2021.69,"v":-0.61},{"src":"CEBAF-4.2.1","year":2021.87,"v":-0.8},{"src":"CEBAF-4.2.1","year":2022.05,"v":-0.7},{"src":"CEBAF-4.2.1","year":2022.23,"v":-0.61},{"src":"CEBAF-4.2.1","year":2022.41,"v":-0.61},{"src":"CEBAF-4.2.1","year":2022.59,"v":-0.7},{"src":"CEBAF-4.2.1","year":2022.77,"v":-0.61},{"src":"CEBAF-4.2.1","year":2022.89,"v":-0.8},{"src":"CEBAF-4.2.1","year":2023.01,"v":-1.46},{"src":"CEBAF-4.2.1","year":2023.13,"v":-1.08},{"src":"CEBAF-4.2.1","year":2023.25,"v":-0.8},
{"src":"ERA5","year":1994.48,"v":6.88},{"src":"ERA5","year":1994.6,"v":6.78},{"src":"ERA5","year":1994.72,"v":6.59},{"src":"ERA5","year":1994.84,"v":6.97},{"src":"ERA5","year":1995.03,"v":7.35},{"src":"ERA5","year":1995.15,"v":7.25},{"src":"ERA5","year":1995.29,"v":6.5},{"src":"ERA5","year":1995.45,"v":6.5},{"src":"ERA5","year":1995.57,"v":6.97},{"src":"ERA5","year":1995.75,"v":7.25},{"src":"ERA5","year":1995.87,"v":6.69},{"src":"ERA5","year":1996.05,"v":5.93},{"src":"ERA5","year":1996.23,"v":5.64},{"src":"ERA5","year":1996.41,"v":5.64},{"src":"ERA5","year":1996.59,"v":5.17},{"src":"ERA5","year":1996.83,"v":4.45},{"src":"ERA5","year":1997.02,"v":5.27},{"src":"ERA5","year":1997.2,"v":5.36},{"src":"ERA5","year":1997.38,"v":5.64},{"src":"ERA5","year":1997.56,"v":5.27},{"src":"ERA5","year":1997.68,"v":5.45},{"src":"ERA5","year":1997.82,"v":6.4},{"src":"ERA5","year":1997.98,"v":6.02},{"src":"ERA5","year":1998.16,"v":6.12},{"src":"ERA5","year":1998.34,"v":5.93},{"src":"ERA5","year":1998.52,"v":5.74},{"src":"ERA5","year":1998.7,"v":5.55},{"src":"ERA5","year":1998.89,"v":5.27},{"src":"ERA5","year":1999.07,"v":4.98},{"src":"ERA5","year":1999.25,"v":4.89},{"src":"ERA5","year":1999.43,"v":5.17},{"src":"ERA5","year":1999.61,"v":5.27},{"src":"ERA5","year":1999.79,"v":5.36},{"src":"ERA5","year":1999.97,"v":5.64},{"src":"ERA5","year":2000.12,"v":6.5},{"src":"ERA5","year":2000.33,"v":6.69},{"src":"ERA5","year":2000.57,"v":6.78},{"src":"ERA5","year":2000.75,"v":6.59},{"src":"ERA5","year":2000.94,"v":6.31},{"src":"ERA5","year":2001.12,"v":5.74},{"src":"ERA5","year":2001.36,"v":5.55},{"src":"ERA5","year":2001.66,"v":5.55},{"src":"ERA5","year":2001.96,"v":5.36},{"src":"ERA5","year":2002.26,"v":5.64},{"src":"ERA5","year":2002.5,"v":5.74},{"src":"ERA5","year":2002.75,"v":5.83},{"src":"ERA5","year":2002.99,"v":5.64},{"src":"ERA5","year":2003.23,"v":5.64},{"src":"ERA5","year":2003.47,"v":5.55},{"src":"ERA5","year":2003.65,"v":5.55},{"src":"ERA5","year":2003.83,"v":5.17},{"src":"ERA5","year":2004.07,"v":6.12},{"src":"ERA5","year":2004.25,"v":6.5},{"src":"ERA5","year":2004.49,"v":6.59},{"src":"ERA5","year":2004.67,"v":6.69},{"src":"ERA5","year":2004.85,"v":6.78},{"src":"ERA5","year":2004.98,"v":6.88},{"src":"ERA5","year":2005.1,"v":6.4},{"src":"ERA5","year":2005.28,"v":5.55},{"src":"ERA5","year":2005.46,"v":5.17},{"src":"ERA5","year":2005.7,"v":5.27},{"src":"ERA5","year":2005.94,"v":5.17},{"src":"ERA5","year":2006.18,"v":5.08},{"src":"ERA5","year":2006.42,"v":4.89},{"src":"ERA5","year":2006.66,"v":4.6},{"src":"ERA5","year":2006.9,"v":4.03},{"src":"ERA5","year":2007.15,"v":3.75},{"src":"ERA5","year":2007.39,"v":3.75},{"src":"ERA5","year":2007.63,"v":3.47},{"src":"ERA5","year":2007.87,"v":3.37},{"src":"ERA5","year":2008.05,"v":3.18},{"src":"ERA5","year":2008.23,"v":3.37},{"src":"ERA5","year":2008.41,"v":3.56},{"src":"ERA5","year":2008.59,"v":3.66},{"src":"ERA5","year":2008.78,"v":3.94},{"src":"ERA5","year":2008.96,"v":3.66},{"src":"ERA5","year":2009.2,"v":3.66},{"src":"ERA5","year":2009.44,"v":3.75},{"src":"ERA5","year":2009.62,"v":3.84},{"src":"ERA5","year":2009.8,"v":4.03},{"src":"ERA5","year":2009.98,"v":3.75},{"src":"ERA5","year":2010.16,"v":3.56},{"src":"ERA5","year":2010.4,"v":3.47},{"src":"ERA5","year":2010.65,"v":3.28},{"src":"ERA5","year":2010.89,"v":2.8},{"src":"ERA5","year":2011.07,"v":3.37},{"src":"ERA5","year":2011.25,"v":3.66},{"src":"ERA5","year":2011.43,"v":3.75},{"src":"ERA5","year":2011.61,"v":3.84},{"src":"ERA5","year":2011.79,"v":4.13},{"src":"ERA5","year":2011.97,"v":4.22},{"src":"ERA5","year":2012.15,"v":4.32},{"src":"ERA5","year":2012.33,"v":4.41},{"src":"ERA5","year":2012.58,"v":4.6},{"src":"ERA5","year":2012.76,"v":4.89},{"src":"ERA5","year":2012.88,"v":5.08},{"src":"ERA5","year":2013.0,"v":4.79},{"src":"ERA5","year":2013.12,"v":4.03},{"src":"ERA5","year":2013.3,"v":3.66},{"src":"ERA5","year":2013.54,"v":3.47},{"src":"ERA5","year":2013.72,"v":3.28},{"src":"ERA5","year":2013.9,"v":2.9},{"src":"ERA5","year":2014.03,"v":3.47},{"src":"ERA5","year":2014.21,"v":3.84},{"src":"ERA5","year":2014.39,"v":4.03},{"src":"ERA5","year":2014.57,"v":3.84},{"src":"ERA5","year":2014.75,"v":3.66},{"src":"ERA5","year":2014.93,"v":3.75},{"src":"ERA5","year":2015.17,"v":3.84},{"src":"ERA5","year":2015.41,"v":3.75},{"src":"ERA5","year":2015.65,"v":3.84},{"src":"ERA5","year":2015.77,"v":4.22},{"src":"ERA5","year":2015.96,"v":5.08},{"src":"ERA5","year":2016.14,"v":4.89},{"src":"ERA5","year":2016.38,"v":4.98},{"src":"ERA5","year":2016.62,"v":5.08},{"src":"ERA5","year":2016.8,"v":4.6},{"src":"ERA5","year":2016.98,"v":4.03},{"src":"ERA5","year":2017.16,"v":4.22},{"src":"ERA5","year":2017.28,"v":4.6},{"src":"ERA5","year":2017.46,"v":4.13},{"src":"ERA5","year":2017.64,"v":4.41},{"src":"ERA5","year":2017.83,"v":4.51},{"src":"ERA5","year":2018.01,"v":3.94},{"src":"ERA5","year":2018.19,"v":3.47},{"src":"ERA5","year":2018.37,"v":3.47},{"src":"ERA5","year":2018.55,"v":2.33},{"src":"ERA5","year":2018.67,"v":1.86},{"src":"ERA5","year":2018.85,"v":2.52},{"src":"ERA5","year":2018.97,"v":2.99},{"src":"ERA5","year":2019.15,"v":3.09},{"src":"ERA5","year":2019.39,"v":2.99},{"src":"ERA5","year":2019.57,"v":3.09},{"src":"ERA5","year":2019.7,"v":2.71},{"src":"ERA5","year":2019.88,"v":2.14},{"src":"ERA5","year":2020.06,"v":1.76},{"src":"ERA5","year":2020.24,"v":1.67},{"src":"ERA5","year":2020.48,"v":1.76},{"src":"ERA5","year":2020.66,"v":1.95},{"src":"ERA5","year":2020.84,"v":2.61},{"src":"ERA5","year":2021.02,"v":3.37},{"src":"ERA5","year":2021.2,"v":3.47},{"src":"ERA5","year":2021.38,"v":3.18},{"src":"ERA5","year":2021.57,"v":2.99},{"src":"ERA5","year":2021.75,"v":2.52},{"src":"ERA5","year":2021.87,"v":2.05},{"src":"ERA5","year":2021.99,"v":1.38},{"src":"ERA5","year":2022.17,"v":0.44},{"src":"ERA5","year":2022.35,"v":0.81},{"src":"ERA5","year":2022.53,"v":0.72},{"src":"ERA5","year":2022.71,"v":1.19},{"src":"ERA5","year":2022.89,"v":0.81},{"src":"ERA5","year":2023.07,"v":1.1},{"src":"ERA5","year":2023.19,"v":1.67},{"src":"ERA5","year":2023.28,"v":1.57}
],
"rmsd": [
{"src":"Solargis-3.2","year":1994.48,"v":7.94},{"src":"Solargis-3.2","year":1994.6,"v":7.48},{"src":"Solargis-3.2","year":1994.78,"v":7.39},{"src":"Solargis-3.2","year":1994.97,"v":7.3},{"src":"Solargis-3.2","year":1995.15,"v":6.94},{"src":"Solargis-3.2","year":1995.27,"v":6.76},{"src":"Solargis-3.2","year":1995.45,"v":6.85},{"src":"Solargis-3.2","year":1995.63,"v":6.85},{"src":"Solargis-3.2","year":1995.77,"v":7.03},{"src":"Solargis-3.2","year":1995.93,"v":6.58},{"src":"Solargis-3.2","year":1996.11,"v":6.4},{"src":"Solargis-3.2","year":1996.29,"v":6.3},{"src":"Solargis-3.2","year":1996.47,"v":6.21},{"src":"Solargis-3.2","year":1996.65,"v":6.12},{"src":"Solargis-3.2","year":1996.83,"v":6.12},{"src":"Solargis-3.2","year":1997.02,"v":6.21},{"src":"Solargis-3.2","year":1997.2,"v":6.3},{"src":"Solargis-3.2","year":1997.38,"v":6.4},{"src":"Solargis-3.2","year":1997.56,"v":6.49},{"src":"Solargis-3.2","year":1997.74,"v":6.49},{"src":"Solargis-3.2","year":1997.92,"v":6.58},{"src":"Solargis-3.2","year":1998.1,"v":6.67},{"src":"Solargis-3.2","year":1998.28,"v":6.67},{"src":"Solargis-3.2","year":1998.46,"v":6.76},{"src":"Solargis-3.2","year":1998.65,"v":6.76},{"src":"Solargis-3.2","year":1998.83,"v":6.76},{"src":"Solargis-3.2","year":1999.01,"v":6.76},{"src":"Solargis-3.2","year":1999.19,"v":6.85},{"src":"Solargis-3.2","year":1999.37,"v":6.85},{"src":"Solargis-3.2","year":1999.55,"v":6.85},{"src":"Solargis-3.2","year":1999.73,"v":6.94},{"src":"Solargis-3.2","year":1999.91,"v":6.94},{"src":"Solargis-3.2","year":2000.09,"v":7.03},{"src":"Solargis-3.2","year":2000.27,"v":7.03},{"src":"Solargis-3.2","year":2000.45,"v":7.21},{"src":"Solargis-3.2","year":2000.63,"v":7.3},{"src":"Solargis-3.2","year":2000.81,"v":7.12},{"src":"Solargis-3.2","year":2000.99,"v":7.03},{"src":"Solargis-3.2","year":2001.18,"v":6.94},{"src":"Solargis-3.2","year":2001.36,"v":6.94},{"src":"Solargis-3.2","year":2001.54,"v":6.85},{"src":"Solargis-3.2","year":2001.72,"v":7.03},{"src":"Solargis-3.2","year":2001.9,"v":6.94},{"src":"Solargis-3.2","year":2002.08,"v":7.03},{"src":"Solargis-3.2","year":2002.26,"v":6.94},{"src":"Solargis-3.2","year":2002.44,"v":6.85},{"src":"Solargis-3.2","year":2002.62,"v":6.76},{"src":"Solargis-3.2","year":2002.81,"v":6.76},{"src":"Solargis-3.2","year":2002.99,"v":6.85},{"src":"Solargis-3.2","year":2003.17,"v":6.67},{"src":"Solargis-3.2","year":2003.35,"v":6.76},{"src":"Solargis-3.2","year":2003.53,"v":6.94},{"src":"Solargis-3.2","year":2003.71,"v":6.85},{"src":"Solargis-3.2","year":2003.89,"v":6.94},{"src":"Solargis-3.2","year":2004.07,"v":6.76},{"src":"Solargis-3.2","year":2004.25,"v":6.67},{"src":"Solargis-3.2","year":2004.43,"v":6.58},{"src":"Solargis-3.2","year":2004.61,"v":6.67},{"src":"Solargis-3.2","year":2004.79,"v":6.67},{"src":"Solargis-3.2","year":2004.98,"v":6.67},{"src":"Solargis-3.2","year":2005.16,"v":6.49},{"src":"Solargis-3.2","year":2005.34,"v":6.21},{"src":"Solargis-3.2","year":2005.52,"v":6.03},{"src":"Solargis-3.2","year":2005.7,"v":6.03},{"src":"Solargis-3.2","year":2005.88,"v":6.21},{"src":"Solargis-3.2","year":2006.06,"v":6.3},{"src":"Solargis-3.2","year":2006.24,"v":6.12},{"src":"Solargis-3.2","year":2006.42,"v":6.03},{"src":"Solargis-3.2","year":2006.6,"v":6.12},{"src":"Solargis-3.2","year":2006.79,"v":6.21},{"src":"Solargis-3.2","year":2006.97,"v":6.3},{"src":"Solargis-3.2","year":2007.15,"v":6.49},{"src":"Solargis-3.2","year":2007.33,"v":6.58},{"src":"Solargis-3.2","year":2007.51,"v":6.49},{"src":"Solargis-3.2","year":2007.69,"v":6.3},{"src":"Solargis-3.2","year":2007.87,"v":6.12},{"src":"Solargis-3.2","year":2008.05,"v":5.94},{"src":"Solargis-3.2","year":2008.23,"v":5.94},{"src":"Solargis-3.2","year":2008.41,"v":6.03},{"src":"Solargis-3.2","year":2008.59,"v":6.12},{"src":"Solargis-3.2","year":2008.78,"v":6.4},{"src":"Solargis-3.2","year":2008.96,"v":6.12},{"src":"Solargis-3.2","year":2009.14,"v":6.3},{"src":"Solargis-3.2","year":2009.32,"v":6.49},{"src":"Solargis-3.2","year":2009.5,"v":6.49},{"src":"Solargis-3.2","year":2009.68,"v":6.49},{"src":"Solargis-3.2","year":2009.86,"v":6.3},{"src":"Solargis-3.2","year":2010.04,"v":6.21},{"src":"Solargis-3.2","year":2010.22,"v":5.85},{"src":"Solargis-3.2","year":2010.4,"v":5.76},{"src":"Solargis-3.2","year":2010.58,"v":5.67},{"src":"Solargis-3.2","year":2010.77,"v":5.58},{"src":"Solargis-3.2","year":2010.95,"v":5.49},{"src":"Solargis-3.2","year":2011.13,"v":5.31},{"src":"Solargis-3.2","year":2011.31,"v":5.4},{"src":"Solargis-3.2","year":2011.49,"v":5.58},{"src":"Solargis-3.2","year":2011.67,"v":5.67},{"src":"Solargis-3.2","year":2011.85,"v":5.85},{"src":"Solargis-3.2","year":2012.03,"v":5.85},{"src":"Solargis-3.2","year":2012.21,"v":5.76},{"src":"Solargis-3.2","year":2012.39,"v":5.67},{"src":"Solargis-3.2","year":2012.58,"v":5.76},{"src":"Solargis-3.2","year":2012.76,"v":5.67},{"src":"Solargis-3.2","year":2012.94,"v":5.58},{"src":"Solargis-3.2","year":2013.12,"v":5.49},{"src":"Solargis-3.2","year":2013.3,"v":5.4},{"src":"Solargis-3.2","year":2013.48,"v":5.4},{"src":"Solargis-3.2","year":2013.66,"v":5.31},{"src":"Solargis-3.2","year":2013.84,"v":5.22},{"src":"Solargis-3.2","year":2014.03,"v":5.31},{"src":"Solargis-3.2","year":2014.21,"v":5.22},{"src":"Solargis-3.2","year":2014.39,"v":5.12},{"src":"Solargis-3.2","year":2014.51,"v":4.94},{"src":"Solargis-3.2","year":2014.63,"v":4.76},{"src":"Solargis-3.2","year":2014.75,"v":4.94},{"src":"Solargis-3.2","year":2014.93,"v":5.22},{"src":"Solargis-3.2","year":2015.11,"v":5.4},{"src":"Solargis-3.2","year":2015.29,"v":5.49},{"src":"Solargis-3.2","year":2015.47,"v":5.49},{"src":"Solargis-3.2","year":2015.65,"v":5.58},{"src":"Solargis-3.2","year":2015.84,"v":5.67},{"src":"Solargis-3.2","year":2016.02,"v":5.76},{"src":"Solargis-3.2","year":2016.2,"v":5.76},{"src":"Solargis-3.2","year":2016.38,"v":5.85},{"src":"Solargis-3.2","year":2016.56,"v":5.85},{"src":"Solargis-3.2","year":2016.74,"v":5.94},{"src":"Solargis-3.2","year":2016.92,"v":5.67},{"src":"Solargis-3.2","year":2017.1,"v":5.58},{"src":"Solargis-3.2","year":2017.28,"v":5.49},{"src":"Solargis-3.2","year":2017.46,"v":5.31},{"src":"Solargis-3.2","year":2017.64,"v":5.58},{"src":"Solargis-3.2","year":2017.83,"v":5.58},{"src":"Solargis-3.2","year":2018.01,"v":5.85},{"src":"Solargis-3.2","year":2018.19,"v":5.67},{"src":"Solargis-3.2","year":2018.37,"v":5.85},{"src":"Solargis-3.2","year":2018.55,"v":6.03},{"src":"Solargis-3.2","year":2018.73,"v":5.85},{"src":"Solargis-3.2","year":2018.91,"v":5.76},{"src":"Solargis-3.2","year":2019.09,"v":5.67},{"src":"Solargis-3.2","year":2019.27,"v":5.76},{"src":"Solargis-3.2","year":2019.45,"v":5.85},{"src":"Solargis-3.2","year":2019.63,"v":5.94},{"src":"Solargis-3.2","year":2019.82,"v":6.03},{"src":"Solargis-3.2","year":2020.0,"v":6.3},{"src":"Solargis-3.2","year":2020.18,"v":6.67},{"src":"Solargis-3.2","year":2020.36,"v":6.49},{"src":"Solargis-3.2","year":2020.54,"v":6.3},{"src":"Solargis-3.2","year":2020.72,"v":6.4},{"src":"Solargis-3.2","year":2020.9,"v":6.49},{"src":"Solargis-3.2","year":2021.08,"v":6.76},{"src":"Solargis-3.2","year":2021.26,"v":6.58},{"src":"Solargis-3.2","year":2021.45,"v":6.49},{"src":"Solargis-3.2","year":2021.63,"v":6.4},{"src":"Solargis-3.2","year":2021.81,"v":6.12},{"src":"Solargis-3.2","year":2021.99,"v":5.67},{"src":"Solargis-3.2","year":2022.17,"v":5.31},{"src":"Solargis-3.2","year":2022.35,"v":5.31},{"src":"Solargis-3.2","year":2022.53,"v":5.31},{"src":"Solargis-3.2","year":2022.71,"v":5.4},{"src":"Solargis-3.2","year":2022.89,"v":5.31},{"src":"Solargis-3.2","year":2023.07,"v":5.22},{"src":"Solargis-3.2","year":2023.25,"v":5.22},
{"src":"SARAH-3","year":1994.48,"v":9.3},{"src":"SARAH-3","year":1994.6,"v":9.03},{"src":"SARAH-3","year":1994.78,"v":8.85},{"src":"SARAH-3","year":1994.97,"v":8.94},{"src":"SARAH-3","year":1995.15,"v":8.57},{"src":"SARAH-3","year":1995.33,"v":8.48},{"src":"SARAH-3","year":1995.51,"v":8.75},{"src":"SARAH-3","year":1995.69,"v":9.03},{"src":"SARAH-3","year":1995.81,"v":9.12},{"src":"SARAH-3","year":1995.93,"v":8.57},{"src":"SARAH-3","year":1996.11,"v":8.03},{"src":"SARAH-3","year":1996.29,"v":7.48},{"src":"SARAH-3","year":1996.47,"v":7.3},{"src":"SARAH-3","year":1996.65,"v":7.03},{"src":"SARAH-3","year":1996.83,"v":6.67},{"src":"SARAH-3","year":1996.96,"v":6.76},{"src":"SARAH-3","year":1997.08,"v":7.3},{"src":"SARAH-3","year":1997.26,"v":7.94},{"src":"SARAH-3","year":1997.44,"v":8.39},{"src":"SARAH-3","year":1997.62,"v":8.3},{"src":"SARAH-3","year":1997.8,"v":8.3},{"src":"SARAH-3","year":1997.92,"v":8.48},{"src":"SARAH-3","year":1998.1,"v":8.12},{"src":"SARAH-3","year":1998.28,"v":8.03},{"src":"SARAH-3","year":1998.46,"v":7.85},{"src":"SARAH-3","year":1998.65,"v":7.76},{"src":"SARAH-3","year":1998.83,"v":7.85},{"src":"SARAH-3","year":1999.01,"v":7.94},{"src":"SARAH-3","year":1999.19,"v":8.03},{"src":"SARAH-3","year":1999.37,"v":8.03},{"src":"SARAH-3","year":1999.55,"v":8.12},{"src":"SARAH-3","year":1999.73,"v":8.21},{"src":"SARAH-3","year":1999.91,"v":8.03},{"src":"SARAH-3","year":2000.09,"v":8.03},{"src":"SARAH-3","year":2000.27,"v":8.12},{"src":"SARAH-3","year":2000.45,"v":7.94},{"src":"SARAH-3","year":2000.63,"v":7.76},{"src":"SARAH-3","year":2000.81,"v":7.58},{"src":"SARAH-3","year":2000.99,"v":7.39},{"src":"SARAH-3","year":2001.18,"v":7.12},{"src":"SARAH-3","year":2001.36,"v":7.58},{"src":"SARAH-3","year":2001.54,"v":7.48},{"src":"SARAH-3","year":2001.72,"v":7.67},{"src":"SARAH-3","year":2001.9,"v":7.85},{"src":"SARAH-3","year":2002.08,"v":7.76},{"src":"SARAH-3","year":2002.26,"v":7.85},{"src":"SARAH-3","year":2002.44,"v":8.03},{"src":"SARAH-3","year":2002.62,"v":7.94},{"src":"SARAH-3","year":2002.81,"v":8.03},{"src":"SARAH-3","year":2002.99,"v":7.85},{"src":"SARAH-3","year":2003.17,"v":7.85},{"src":"SARAH-3","year":2003.35,"v":7.76},{"src":"SARAH-3","year":2003.53,"v":7.67},{"src":"SARAH-3","year":2003.71,"v":7.76},{"src":"SARAH-3","year":2003.89,"v":7.94},{"src":"SARAH-3","year":2004.07,"v":8.12},{"src":"SARAH-3","year":2004.25,"v":8.21},{"src":"SARAH-3","year":2004.43,"v":8.3},{"src":"SARAH-3","year":2004.61,"v":8.21},{"src":"SARAH-3","year":2004.79,"v":8.48},{"src":"SARAH-3","year":2004.98,"v":8.12},{"src":"SARAH-3","year":2005.16,"v":7.94},{"src":"SARAH-3","year":2005.34,"v":8.03},{"src":"SARAH-3","year":2005.52,"v":7.76},{"src":"SARAH-3","year":2005.7,"v":7.48},{"src":"SARAH-3","year":2005.88,"v":7.58},{"src":"SARAH-3","year":2006.06,"v":7.76},{"src":"SARAH-3","year":2006.24,"v":7.85},{"src":"SARAH-3","year":2006.42,"v":7.76},{"src":"SARAH-3","year":2006.6,"v":7.76},{"src":"SARAH-3","year":2006.79,"v":7.85},{"src":"SARAH-3","year":2006.97,"v":8.3},{"src":"SARAH-3","year":2007.15,"v":8.03},{"src":"SARAH-3","year":2007.33,"v":7.94},{"src":"SARAH-3","year":2007.51,"v":7.85},{"src":"SARAH-3","year":2007.69,"v":7.76},{"src":"SARAH-3","year":2007.87,"v":7.67},{"src":"SARAH-3","year":2008.05,"v":7.76},{"src":"SARAH-3","year":2008.23,"v":7.67},{"src":"SARAH-3","year":2008.41,"v":7.67},{"src":"SARAH-3","year":2008.59,"v":7.67},{"src":"SARAH-3","year":2008.78,"v":7.58},{"src":"SARAH-3","year":2008.96,"v":7.21},{"src":"SARAH-3","year":2009.14,"v":7.39},{"src":"SARAH-3","year":2009.32,"v":7.94},{"src":"SARAH-3","year":2009.5,"v":7.94},{"src":"SARAH-3","year":2009.68,"v":7.85},{"src":"SARAH-3","year":2009.86,"v":7.85},{"src":"SARAH-3","year":2010.04,"v":8.03},{"src":"SARAH-3","year":2010.16,"v":7.48},{"src":"SARAH-3","year":2010.34,"v":7.03},{"src":"SARAH-3","year":2010.52,"v":6.94},{"src":"SARAH-3","year":2010.71,"v":6.94},{"src":"SARAH-3","year":2010.89,"v":6.94},{"src":"SARAH-3","year":2011.07,"v":6.76},{"src":"SARAH-3","year":2011.25,"v":6.94},{"src":"SARAH-3","year":2011.43,"v":7.03},{"src":"SARAH-3","year":2011.61,"v":7.12},{"src":"SARAH-3","year":2011.79,"v":7.3},{"src":"SARAH-3","year":2011.97,"v":7.12},{"src":"SARAH-3","year":2012.15,"v":7.12},{"src":"SARAH-3","year":2012.33,"v":7.21},{"src":"SARAH-3","year":2012.52,"v":7.3},{"src":"SARAH-3","year":2012.7,"v":7.39},{"src":"SARAH-3","year":2012.88,"v":7.58},{"src":"SARAH-3","year":2013.06,"v":7.76},{"src":"SARAH-3","year":2013.24,"v":7.67},{"src":"SARAH-3","year":2013.42,"v":7.58},{"src":"SARAH-3","year":2013.6,"v":7.3},{"src":"SARAH-3","year":2013.78,"v":7.03},{"src":"SARAH-3","year":2013.97,"v":6.94},{"src":"SARAH-3","year":2014.15,"v":7.21},{"src":"SARAH-3","year":2014.33,"v":7.48},{"src":"SARAH-3","year":2014.51,"v":7.67},{"src":"SARAH-3","year":2014.69,"v":7.58},{"src":"SARAH-3","year":2014.81,"v":7.76},{"src":"SARAH-3","year":2014.99,"v":7.58},{"src":"SARAH-3","year":2015.17,"v":7.48},{"src":"SARAH-3","year":2015.35,"v":7.48},{"src":"SARAH-3","year":2015.53,"v":7.39},{"src":"SARAH-3","year":2015.72,"v":7.21},{"src":"SARAH-3","year":2015.9,"v":7.21},{"src":"SARAH-3","year":2016.08,"v":7.3},{"src":"SARAH-3","year":2016.26,"v":7.12},{"src":"SARAH-3","year":2016.44,"v":7.12},{"src":"SARAH-3","year":2016.62,"v":7.03},{"src":"SARAH-3","year":2016.8,"v":6.94},{"src":"SARAH-3","year":2016.98,"v":6.76},{"src":"SARAH-3","year":2017.16,"v":6.94},{"src":"SARAH-3","year":2017.34,"v":7.03},{"src":"SARAH-3","year":2017.53,"v":6.85},{"src":"SARAH-3","year":2017.71,"v":7.03},{"src":"SARAH-3","year":2017.89,"v":7.3},{"src":"SARAH-3","year":2018.07,"v":7.12},{"src":"SARAH-3","year":2018.25,"v":7.3},{"src":"SARAH-3","year":2018.43,"v":7.12},{"src":"SARAH-3","year":2018.61,"v":7.03},{"src":"SARAH-3","year":2018.79,"v":6.76},{"src":"SARAH-3","year":2018.97,"v":6.49},{"src":"SARAH-3","year":2019.15,"v":6.21},{"src":"SARAH-3","year":2019.33,"v":6.03},{"src":"SARAH-3","year":2019.51,"v":6.03},{"src":"SARAH-3","year":2019.7,"v":6.3},{"src":"SARAH-3","year":2019.88,"v":6.76},{"src":"SARAH-3","year":2020.06,"v":7.3},{"src":"SARAH-3","year":2020.24,"v":7.39},{"src":"SARAH-3","year":2020.42,"v":7.21},{"src":"SARAH-3","year":2020.6,"v":7.3},{"src":"SARAH-3","year":2020.78,"v":7.39},{"src":"SARAH-3","year":2020.96,"v":7.3},{"src":"SARAH-3","year":2021.14,"v":7.12},{"src":"SARAH-3","year":2021.32,"v":6.85},{"src":"SARAH-3","year":2021.5,"v":6.58},{"src":"SARAH-3","year":2021.69,"v":6.39},{"src":"SARAH-3","year":2021.87,"v":6.12},{"src":"SARAH-3","year":2022.05,"v":5.85},{"src":"SARAH-3","year":2022.23,"v":5.85},{"src":"SARAH-3","year":2022.41,"v":5.94},{"src":"SARAH-3","year":2022.59,"v":5.94},{"src":"SARAH-3","year":2022.77,"v":5.94},{"src":"SARAH-3","year":2022.95,"v":6.21},{"src":"SARAH-3","year":2023.13,"v":6.39},{"src":"SARAH-3","year":2023.25,"v":6.49},
{"src":"CLARA-A3","year":1995.51,"v":7.67},{"src":"CLARA-A3","year":1995.63,"v":7.58},{"src":"CLARA-A3","year":1995.77,"v":7.94},{"src":"CLARA-A3","year":1995.93,"v":7.48},{"src":"CLARA-A3","year":1996.11,"v":7.3},{"src":"CLARA-A3","year":1996.29,"v":7.12},{"src":"CLARA-A3","year":1996.47,"v":6.94},{"src":"CLARA-A3","year":1996.65,"v":6.85},{"src":"CLARA-A3","year":1996.83,"v":6.67},{"src":"CLARA-A3","year":1997.02,"v":6.67},{"src":"CLARA-A3","year":1997.2,"v":6.76},{"src":"CLARA-A3","year":1997.38,"v":6.94},{"src":"CLARA-A3","year":1997.56,"v":7.03},{"src":"CLARA-A3","year":1997.74,"v":7.12},{"src":"CLARA-A3","year":1997.92,"v":7.21},{"src":"CLARA-A3","year":1998.1,"v":7.39},{"src":"CLARA-A3","year":1998.28,"v":7.39},{"src":"CLARA-A3","year":1998.46,"v":7.3},{"src":"CLARA-A3","year":1998.65,"v":7.39},{"src":"CLARA-A3","year":1998.83,"v":7.3},{"src":"CLARA-A3","year":1999.01,"v":7.48},{"src":"CLARA-A3","year":1999.19,"v":7.39},{"src":"CLARA-A3","year":1999.37,"v":7.39},{"src":"CLARA-A3","year":1999.55,"v":7.48},{"src":"CLARA-A3","year":1999.73,"v":7.58},{"src":"CLARA-A3","year":1999.91,"v":7.67},{"src":"CLARA-A3","year":2000.09,"v":7.67},{"src":"CLARA-A3","year":2000.27,"v":7.58},{"src":"CLARA-A3","year":2000.51,"v":8.3},{"src":"CLARA-A3","year":2000.69,"v":8.12},{"src":"CLARA-A3","year":2000.87,"v":7.85},{"src":"CLARA-A3","year":2001.06,"v":7.76},{"src":"CLARA-A3","year":2001.24,"v":7.67},{"src":"CLARA-A3","year":2001.42,"v":7.58},{"src":"CLARA-A3","year":2001.54,"v":7.03},{"src":"CLARA-A3","year":2001.72,"v":7.12},{"src":"CLARA-A3","year":2001.9,"v":7.21},{"src":"CLARA-A3","year":2002.08,"v":7.3},{"src":"CLARA-A3","year":2002.26,"v":7.76},{"src":"CLARA-A3","year":2002.44,"v":7.48},{"src":"CLARA-A3","year":2002.62,"v":7.58},{"src":"CLARA-A3","year":2002.81,"v":7.67},{"src":"CLARA-A3","year":2002.99,"v":7.3},{"src":"CLARA-A3","year":2003.17,"v":7.12},{"src":"CLARA-A3","year":2003.35,"v":6.94},{"src":"CLARA-A3","year":2003.53,"v":7.03},{"src":"CLARA-A3","year":2003.71,"v":6.94},{"src":"CLARA-A3","year":2003.89,"v":6.94},{"src":"CLARA-A3","year":2004.07,"v":6.76},{"src":"CLARA-A3","year":2004.25,"v":6.85},{"src":"CLARA-A3","year":2004.43,"v":6.94},{"src":"CLARA-A3","year":2004.61,"v":6.76},{"src":"CLARA-A3","year":2004.79,"v":6.58},{"src":"CLARA-A3","year":2004.98,"v":6.49},{"src":"CLARA-A3","year":2005.16,"v":6.58},{"src":"CLARA-A3","year":2005.34,"v":6.67},{"src":"CLARA-A3","year":2005.52,"v":6.67},{"src":"CLARA-A3","year":2005.7,"v":6.67},{"src":"CLARA-A3","year":2005.88,"v":6.76},{"src":"CLARA-A3","year":2006.06,"v":6.85},{"src":"CLARA-A3","year":2006.24,"v":6.58},{"src":"CLARA-A3","year":2006.42,"v":6.4},{"src":"CLARA-A3","year":2006.6,"v":6.4},{"src":"CLARA-A3","year":2006.79,"v":6.3},{"src":"CLARA-A3","year":2006.97,"v":6.4},{"src":"CLARA-A3","year":2007.15,"v":6.49},{"src":"CLARA-A3","year":2007.33,"v":6.58},{"src":"CLARA-A3","year":2007.51,"v":6.49},{"src":"CLARA-A3","year":2007.69,"v":6.4},{"src":"CLARA-A3","year":2007.87,"v":6.21},{"src":"CLARA-A3","year":2008.05,"v":6.03},{"src":"CLARA-A3","year":2008.23,"v":6.03},{"src":"CLARA-A3","year":2008.41,"v":6.12},{"src":"CLARA-A3","year":2008.59,"v":6.21},{"src":"CLARA-A3","year":2008.78,"v":6.3},{"src":"CLARA-A3","year":2008.96,"v":6.21},{"src":"CLARA-A3","year":2009.14,"v":6.4},{"src":"CLARA-A3","year":2009.32,"v":6.49},{"src":"CLARA-A3","year":2009.5,"v":6.49},{"src":"CLARA-A3","year":2009.68,"v":6.4},{"src":"CLARA-A3","year":2009.86,"v":6.3},{"src":"CLARA-A3","year":2010.04,"v":6.76},{"src":"CLARA-A3","year":2010.16,"v":6.3},{"src":"CLARA-A3","year":2010.34,"v":6.21},{"src":"CLARA-A3","year":2010.52,"v":6.12},{"src":"CLARA-A3","year":2010.71,"v":6.03},{"src":"CLARA-A3","year":2010.89,"v":5.94},{"src":"CLARA-A3","year":2011.07,"v":5.76},{"src":"CLARA-A3","year":2011.25,"v":5.76},{"src":"CLARA-A3","year":2011.43,"v":5.85},{"src":"CLARA-A3","year":2011.61,"v":5.94},{"src":"CLARA-A3","year":2011.79,"v":6.03},{"src":"CLARA-A3","year":2011.97,"v":5.94},{"src":"CLARA-A3","year":2012.15,"v":5.85},{"src":"CLARA-A3","year":2012.33,"v":5.76},{"src":"CLARA-A3","year":2012.52,"v":5.67},{"src":"CLARA-A3","year":2012.7,"v":5.76},{"src":"CLARA-A3","year":2012.88,"v":5.67},{"src":"CLARA-A3","year":2013.06,"v":5.85},{"src":"CLARA-A3","year":2013.24,"v":5.85},{"src":"CLARA-A3","year":2013.42,"v":5.76},{"src":"CLARA-A3","year":2013.6,"v":5.67},{"src":"CLARA-A3","year":2013.78,"v":5.58},{"src":"CLARA-A3","year":2013.96,"v":5.4},{"src":"CLARA-A3","year":2014.21,"v":5.31},{"src":"CLARA-A3","year":2014.39,"v":5.31},{"src":"CLARA-A3","year":2014.57,"v":5.31},{"src":"CLARA-A3","year":2014.75,"v":5.58},{"src":"CLARA-A3","year":2014.93,"v":5.94},{"src":"CLARA-A3","year":2015.11,"v":6.21},{"src":"CLARA-A3","year":2015.29,"v":6.3},{"src":"CLARA-A3","year":2015.47,"v":6.4},{"src":"CLARA-A3","year":2015.65,"v":6.3},{"src":"CLARA-A3","year":2015.84,"v":6.3},{"src":"CLARA-A3","year":2016.02,"v":6.3},{"src":"CLARA-A3","year":2016.2,"v":6.3},{"src":"CLARA-A3","year":2016.38,"v":6.3},{"src":"CLARA-A3","year":2016.56,"v":6.3},{"src":"CLARA-A3","year":2016.74,"v":6.4},{"src":"CLARA-A3","year":2016.92,"v":6.3},{"src":"CLARA-A3","year":2017.1,"v":6.3},{"src":"CLARA-A3","year":2017.28,"v":6.3},{"src":"CLARA-A3","year":2017.46,"v":6.3},{"src":"CLARA-A3","year":2017.64,"v":6.4},{"src":"CLARA-A3","year":2017.83,"v":6.58},{"src":"CLARA-A3","year":2018.01,"v":6.67},{"src":"CLARA-A3","year":2018.19,"v":6.76},{"src":"CLARA-A3","year":2018.37,"v":6.85},{"src":"CLARA-A3","year":2018.55,"v":6.94},{"src":"CLARA-A3","year":2018.73,"v":6.76},{"src":"CLARA-A3","year":2018.91,"v":6.58},{"src":"CLARA-A3","year":2019.09,"v":6.49},{"src":"CLARA-A3","year":2019.27,"v":6.49},{"src":"CLARA-A3","year":2019.45,"v":6.49},{"src":"CLARA-A3","year":2019.63,"v":6.58},{"src":"CLARA-A3","year":2019.82,"v":6.85},{"src":"CLARA-A3","year":2020.0,"v":7.12},{"src":"CLARA-A3","year":2020.18,"v":7.21},{"src":"CLARA-A3","year":2020.36,"v":7.3},{"src":"CLARA-A3","year":2020.54,"v":7.3},{"src":"CLARA-A3","year":2020.72,"v":7.67},{"src":"CLARA-A3","year":2020.9,"v":8.03},{"src":"CLARA-A3","year":2021.08,"v":8.12},{"src":"CLARA-A3","year":2021.26,"v":8.12},{"src":"CLARA-A3","year":2021.45,"v":8.21},{"src":"CLARA-A3","year":2021.63,"v":8.12},{"src":"CLARA-A3","year":2021.81,"v":7.94},{"src":"CLARA-A3","year":2021.99,"v":7.58},{"src":"CLARA-A3","year":2022.17,"v":7.39},{"src":"CLARA-A3","year":2022.35,"v":7.3},{"src":"CLARA-A3","year":2022.53,"v":7.3},{"src":"CLARA-A3","year":2022.71,"v":7.21},{"src":"CLARA-A3","year":2022.89,"v":7.03},{"src":"CLARA-A3","year":2023.01,"v":6.94},{"src":"CLARA-A3","year":2023.13,"v":7.39},{"src":"CLARA-A3","year":2023.25,"v":7.48},
{"src":"CEBAF-4.2.1","year":2000.69,"v":9.03},{"src":"CEBAF-4.2.1","year":2000.87,"v":8.94},{"src":"CEBAF-4.2.1","year":2000.99,"v":8.75},{"src":"CEBAF-4.2.1","year":2001.18,"v":9.12},{"src":"CEBAF-4.2.1","year":2001.36,"v":9.03},{"src":"CEBAF-4.2.1","year":2001.54,"v":9.12},{"src":"CEBAF-4.2.1","year":2001.72,"v":9.3},{"src":"CEBAF-4.2.1","year":2001.84,"v":9.84},{"src":"CEBAF-4.2.1","year":2001.96,"v":9.93},{"src":"CEBAF-4.2.1","year":2002.14,"v":9.48},{"src":"CEBAF-4.2.1","year":2002.26,"v":9.84},{"src":"CEBAF-4.2.1","year":2002.44,"v":9.57},{"src":"CEBAF-4.2.1","year":2002.62,"v":9.48},{"src":"CEBAF-4.2.1","year":2002.81,"v":9.12},{"src":"CEBAF-4.2.1","year":2002.99,"v":8.57},{"src":"CEBAF-4.2.1","year":2003.17,"v":7.94},{"src":"CEBAF-4.2.1","year":2003.35,"v":7.76},{"src":"CEBAF-4.2.1","year":2003.53,"v":7.76},{"src":"CEBAF-4.2.1","year":2003.71,"v":7.67},{"src":"CEBAF-4.2.1","year":2003.89,"v":8.03},{"src":"CEBAF-4.2.1","year":2004.07,"v":8.12},{"src":"CEBAF-4.2.1","year":2004.25,"v":8.48},{"src":"CEBAF-4.2.1","year":2004.43,"v":8.75},{"src":"CEBAF-4.2.1","year":2004.61,"v":8.94},{"src":"CEBAF-4.2.1","year":2004.79,"v":9.12},{"src":"CEBAF-4.2.1","year":2004.98,"v":9.03},{"src":"CEBAF-4.2.1","year":2005.16,"v":8.94},{"src":"CEBAF-4.2.1","year":2005.34,"v":8.85},{"src":"CEBAF-4.2.1","year":2005.52,"v":8.85},{"src":"CEBAF-4.2.1","year":2005.7,"v":8.94},{"src":"CEBAF-4.2.1","year":2005.88,"v":8.85},{"src":"CEBAF-4.2.1","year":2006.06,"v":9.03},{"src":"CEBAF-4.2.1","year":2006.18,"v":9.12},{"src":"CEBAF-4.2.1","year":2006.36,"v":8.85},{"src":"CEBAF-4.2.1","year":2006.54,"v":8.66},{"src":"CEBAF-4.2.1","year":2006.72,"v":8.39},{"src":"CEBAF-4.2.1","year":2006.9,"v":8.12},{"src":"CEBAF-4.2.1","year":2007.09,"v":8.03},{"src":"CEBAF-4.2.1","year":2007.27,"v":8.21},{"src":"CEBAF-4.2.1","year":2007.45,"v":8.3},{"src":"CEBAF-4.2.1","year":2007.63,"v":8.39},{"src":"CEBAF-4.2.1","year":2007.81,"v":8.48},{"src":"CEBAF-4.2.1","year":2007.99,"v":8.57},{"src":"CEBAF-4.2.1","year":2008.17,"v":8.48},{"src":"CEBAF-4.2.1","year":2008.35,"v":8.39},{"src":"CEBAF-4.2.1","year":2008.53,"v":8.3},{"src":"CEBAF-4.2.1","year":2008.71,"v":8.48},{"src":"CEBAF-4.2.1","year":2008.9,"v":8.21},{"src":"CEBAF-4.2.1","year":2009.02,"v":7.94},{"src":"CEBAF-4.2.1","year":2009.2,"v":8.21},{"src":"CEBAF-4.2.1","year":2009.38,"v":8.3},{"src":"CEBAF-4.2.1","year":2009.56,"v":8.21},{"src":"CEBAF-4.2.1","year":2009.74,"v":8.03},{"src":"CEBAF-4.2.1","year":2009.92,"v":8.21},{"src":"CEBAF-4.2.1","year":2010.07,"v":8.48},{"src":"CEBAF-4.2.1","year":2010.22,"v":8.12},{"src":"CEBAF-4.2.1","year":2010.4,"v":8.12},{"src":"CEBAF-4.2.1","year":2010.58,"v":8.12},{"src":"CEBAF-4.2.1","year":2010.77,"v":8.03},{"src":"CEBAF-4.2.1","year":2010.95,"v":8.21},{"src":"CEBAF-4.2.1","year":2011.13,"v":7.94},{"src":"CEBAF-4.2.1","year":2011.31,"v":8.12},{"src":"CEBAF-4.2.1","year":2011.49,"v":8.3},{"src":"CEBAF-4.2.1","year":2011.67,"v":8.48},{"src":"CEBAF-4.2.1","year":2011.85,"v":8.75},{"src":"CEBAF-4.2.1","year":2012.03,"v":8.48},{"src":"CEBAF-4.2.1","year":2012.21,"v":8.39},{"src":"CEBAF-4.2.1","year":2012.39,"v":8.3},{"src":"CEBAF-4.2.1","year":2012.58,"v":8.21},{"src":"CEBAF-4.2.1","year":2012.76,"v":8.12},{"src":"CEBAF-4.2.1","year":2012.94,"v":8.21},{"src":"CEBAF-4.2.1","year":2013.12,"v":8.3},{"src":"CEBAF-4.2.1","year":2013.3,"v":8.3},{"src":"CEBAF-4.2.1","year":2013.48,"v":8.21},{"src":"CEBAF-4.2.1","year":2013.66,"v":8.12},{"src":"CEBAF-4.2.1","year":2013.84,"v":7.94},{"src":"CEBAF-4.2.1","year":2014.03,"v":7.94},{"src":"CEBAF-4.2.1","year":2014.21,"v":7.85},{"src":"CEBAF-4.2.1","year":2014.39,"v":7.94},{"src":"CEBAF-4.2.1","year":2014.57,"v":8.03},{"src":"CEBAF-4.2.1","year":2014.75,"v":8.3},{"src":"CEBAF-4.2.1","year":2014.93,"v":8.21},{"src":"CEBAF-4.2.1","year":2015.11,"v":8.3},{"src":"CEBAF-4.2.1","year":2015.29,"v":8.39},{"src":"CEBAF-4.2.1","year":2015.47,"v":8.48},{"src":"CEBAF-4.2.1","year":2015.65,"v":8.39},{"src":"CEBAF-4.2.1","year":2015.84,"v":8.48},{"src":"CEBAF-4.2.1","year":2016.02,"v":8.39},{"src":"CEBAF-4.2.1","year":2016.2,"v":8.48},{"src":"CEBAF-4.2.1","year":2016.38,"v":8.57},{"src":"CEBAF-4.2.1","year":2016.56,"v":8.48},{"src":"CEBAF-4.2.1","year":2016.74,"v":8.57},{"src":"CEBAF-4.2.1","year":2016.92,"v":8.66},{"src":"CEBAF-4.2.1","year":2017.1,"v":8.48},{"src":"CEBAF-4.2.1","year":2017.28,"v":8.3},{"src":"CEBAF-4.2.1","year":2017.46,"v":8.21},{"src":"CEBAF-4.2.1","year":2017.64,"v":8.3},{"src":"CEBAF-4.2.1","year":2017.83,"v":8.48},{"src":"CEBAF-4.2.1","year":2018.01,"v":8.57},{"src":"CEBAF-4.2.1","year":2018.19,"v":8.75},{"src":"CEBAF-4.2.1","year":2018.37,"v":8.85},{"src":"CEBAF-4.2.1","year":2018.55,"v":8.66},{"src":"CEBAF-4.2.1","year":2018.73,"v":8.48},{"src":"CEBAF-4.2.1","year":2018.91,"v":8.21},{"src":"CEBAF-4.2.1","year":2019.09,"v":7.76},{"src":"CEBAF-4.2.1","year":2019.27,"v":7.76},{"src":"CEBAF-4.2.1","year":2019.45,"v":7.94},{"src":"CEBAF-4.2.1","year":2019.63,"v":7.94},{"src":"CEBAF-4.2.1","year":2019.82,"v":8.03},{"src":"CEBAF-4.2.1","year":2020.0,"v":8.21},{"src":"CEBAF-4.2.1","year":2020.18,"v":8.3},{"src":"CEBAF-4.2.1","year":2020.36,"v":8.39},{"src":"CEBAF-4.2.1","year":2020.54,"v":8.48},{"src":"CEBAF-4.2.1","year":2020.72,"v":8.57},{"src":"CEBAF-4.2.1","year":2020.9,"v":8.85},{"src":"CEBAF-4.2.1","year":2021.08,"v":9.03},{"src":"CEBAF-4.2.1","year":2021.2,"v":9.12},{"src":"CEBAF-4.2.1","year":2021.38,"v":8.94},{"src":"CEBAF-4.2.1","year":2021.57,"v":8.66},{"src":"CEBAF-4.2.1","year":2021.75,"v":8.3},{"src":"CEBAF-4.2.1","year":2021.93,"v":7.94},{"src":"CEBAF-4.2.1","year":2022.11,"v":7.58},{"src":"CEBAF-4.2.1","year":2022.29,"v":7.67},{"src":"CEBAF-4.2.1","year":2022.47,"v":7.67},{"src":"CEBAF-4.2.1","year":2022.65,"v":7.76},{"src":"CEBAF-4.2.1","year":2022.83,"v":7.76},{"src":"CEBAF-4.2.1","year":2022.95,"v":7.94},{"src":"CEBAF-4.2.1","year":2023.07,"v":8.3},{"src":"CEBAF-4.2.1","year":2023.25,"v":8.03},
{"src":"ERA5","year":1994.48,"v":12.38},{"src":"ERA5","year":1994.6,"v":12.29},{"src":"ERA5","year":1994.72,"v":12.06},{"src":"ERA5","year":1994.84,"v":12.57},{"src":"ERA5","year":1995.03,"v":13.2},{"src":"ERA5","year":1995.15,"v":13.11},{"src":"ERA5","year":1995.27,"v":12.93},{"src":"ERA5","year":1995.45,"v":12.93},{"src":"ERA5","year":1995.57,"v":13.2},{"src":"ERA5","year":1995.69,"v":13.75},{"src":"ERA5","year":1995.77,"v":13.93},{"src":"ERA5","year":1995.87,"v":13.11},{"src":"ERA5","year":1996.05,"v":12.11},{"src":"ERA5","year":1996.23,"v":11.93},{"src":"ERA5","year":1996.41,"v":11.75},{"src":"ERA5","year":1996.59,"v":11.48},{"src":"ERA5","year":1996.71,"v":11.11},{"src":"ERA5","year":1996.83,"v":10.66},{"src":"ERA5","year":1997.02,"v":11.02},{"src":"ERA5","year":1997.2,"v":11.2},{"src":"ERA5","year":1997.38,"v":11.39},{"src":"ERA5","year":1997.56,"v":11.02},{"src":"ERA5","year":1997.68,"v":11.2},{"src":"ERA5","year":1997.86,"v":12.11},{"src":"ERA5","year":1998.04,"v":12.02},{"src":"ERA5","year":1998.22,"v":12.48},{"src":"ERA5","year":1998.4,"v":12.38},{"src":"ERA5","year":1998.58,"v":12.29},{"src":"ERA5","year":1998.76,"v":12.2},{"src":"ERA5","year":1998.89,"v":12.02},{"src":"ERA5","year":1999.07,"v":12.2},{"src":"ERA5","year":1999.19,"v":11.93},{"src":"ERA5","year":1999.37,"v":12.2},{"src":"ERA5","year":1999.55,"v":12.29},{"src":"ERA5","year":1999.73,"v":12.38},{"src":"ERA5","year":1999.91,"v":12.66},{"src":"ERA5","year":2000.09,"v":12.75},{"src":"ERA5","year":2000.27,"v":12.84},{"src":"ERA5","year":2000.45,"v":12.84},{"src":"ERA5","year":2000.63,"v":12.93},{"src":"ERA5","year":2000.81,"v":12.75},{"src":"ERA5","year":2000.99,"v":12.2},{"src":"ERA5","year":2001.18,"v":11.93},{"src":"ERA5","year":2001.36,"v":12.02},{"src":"ERA5","year":2001.54,"v":11.93},{"src":"ERA5","year":2001.72,"v":11.93},{"src":"ERA5","year":2001.9,"v":11.93},{"src":"ERA5","year":2002.08,"v":12.48},{"src":"ERA5","year":2002.26,"v":12.38},{"src":"ERA5","year":2002.44,"v":12.48},{"src":"ERA5","year":2002.62,"v":12.57},{"src":"ERA5","year":2002.81,"v":12.2},{"src":"ERA5","year":2002.99,"v":11.66},{"src":"ERA5","year":2003.17,"v":11.2},{"src":"ERA5","year":2003.35,"v":11.11},{"src":"ERA5","year":2003.53,"v":11.02},{"src":"ERA5","year":2003.71,"v":10.84},{"src":"ERA5","year":2003.83,"v":10.66},{"src":"ERA5","year":2004.07,"v":11.39},{"src":"ERA5","year":2004.25,"v":11.57},{"src":"ERA5","year":2004.43,"v":11.84},{"src":"ERA5","year":2004.61,"v":11.84},{"src":"ERA5","year":2004.79,"v":12.11},{"src":"ERA5","year":2004.98,"v":12.38},{"src":"ERA5","year":2005.16,"v":11.93},{"src":"ERA5","year":2005.34,"v":11.57},{"src":"ERA5","year":2005.52,"v":11.48},{"src":"ERA5","year":2005.7,"v":11.39},{"src":"ERA5","year":2005.88,"v":11.48},{"src":"ERA5","year":2006.06,"v":11.93},{"src":"ERA5","year":2006.24,"v":11.75},{"src":"ERA5","year":2006.42,"v":11.48},{"src":"ERA5","year":2006.6,"v":11.3},{"src":"ERA5","year":2006.79,"v":11.02},{"src":"ERA5","year":2006.97,"v":10.93},{"src":"ERA5","year":2007.15,"v":10.75},{"src":"ERA5","year":2007.33,"v":10.75},{"src":"ERA5","year":2007.51,"v":10.57},{"src":"ERA5","year":2007.69,"v":10.39},{"src":"ERA5","year":2007.87,"v":10.66},{"src":"ERA5","year":2008.05,"v":10.48},{"src":"ERA5","year":2008.23,"v":10.66},{"src":"ERA5","year":2008.41,"v":10.75},{"src":"ERA5","year":2008.59,"v":10.84},{"src":"ERA5","year":2008.78,"v":10.75},{"src":"ERA5","year":2008.96,"v":10.48},{"src":"ERA5","year":2009.14,"v":10.3},{"src":"ERA5","year":2009.32,"v":10.48},{"src":"ERA5","year":2009.5,"v":10.48},{"src":"ERA5","year":2009.68,"v":10.57},{"src":"ERA5","year":2009.86,"v":10.48},{"src":"ERA5","year":2010.04,"v":10.93},{"src":"ERA5","year":2010.22,"v":10.66},{"src":"ERA5","year":2010.4,"v":10.66},{"src":"ERA5","year":2010.58,"v":10.48},{"src":"ERA5","year":2010.77,"v":10.39},{"src":"ERA5","year":2010.95,"v":10.21},{"src":"ERA5","year":2011.13,"v":10.03},{"src":"ERA5","year":2011.31,"v":10.21},{"src":"ERA5","year":2011.49,"v":10.3},{"src":"ERA5","year":2011.67,"v":10.03},{"src":"ERA5","year":2011.85,"v":10.48},{"src":"ERA5","year":2012.03,"v":10.48},{"src":"ERA5","year":2012.21,"v":10.21},{"src":"ERA5","year":2012.39,"v":9.93},{"src":"ERA5","year":2012.58,"v":10.39},{"src":"ERA5","year":2012.76,"v":10.75},{"src":"ERA5","year":2012.94,"v":10.75},{"src":"ERA5","year":2013.12,"v":10.84},{"src":"ERA5","year":2013.3,"v":10.84},{"src":"ERA5","year":2013.48,"v":10.66},{"src":"ERA5","year":2013.66,"v":10.39},{"src":"ERA5","year":2013.84,"v":10.21},{"src":"ERA5","year":2014.03,"v":10.12},{"src":"ERA5","year":2014.21,"v":10.3},{"src":"ERA5","year":2014.39,"v":10.48},{"src":"ERA5","year":2014.57,"v":10.39},{"src":"ERA5","year":2014.75,"v":10.39},{"src":"ERA5","year":2014.93,"v":10.57},{"src":"ERA5","year":2015.11,"v":10.93},{"src":"ERA5","year":2015.29,"v":10.84},{"src":"ERA5","year":2015.41,"v":10.66},{"src":"ERA5","year":2015.59,"v":10.84},{"src":"ERA5","year":2015.77,"v":10.93},{"src":"ERA5","year":2015.96,"v":11.39},{"src":"ERA5","year":2016.14,"v":11.3},{"src":"ERA5","year":2016.32,"v":11.48},{"src":"ERA5","year":2016.5,"v":11.66},{"src":"ERA5","year":2016.65,"v":11.88},{"src":"ERA5","year":2016.8,"v":11.39},{"src":"ERA5","year":2016.98,"v":11.3},{"src":"ERA5","year":2017.16,"v":11.11},{"src":"ERA5","year":2017.34,"v":10.93},{"src":"ERA5","year":2017.53,"v":10.66},{"src":"ERA5","year":2017.71,"v":10.93},{"src":"ERA5","year":2017.89,"v":11.11},{"src":"ERA5","year":2018.07,"v":11.02},{"src":"ERA5","year":2018.25,"v":11.11},{"src":"ERA5","year":2018.43,"v":11.2},{"src":"ERA5","year":2018.55,"v":11.3},{"src":"ERA5","year":2018.67,"v":10.84},{"src":"ERA5","year":2018.79,"v":10.12},{"src":"ERA5","year":2018.97,"v":9.93},{"src":"ERA5","year":2019.15,"v":9.84},{"src":"ERA5","year":2019.33,"v":9.75},{"src":"ERA5","year":2019.51,"v":9.66},{"src":"ERA5","year":2019.7,"v":9.93},{"src":"ERA5","year":2019.88,"v":9.75},{"src":"ERA5","year":2020.06,"v":9.93},{"src":"ERA5","year":2020.24,"v":10.03},{"src":"ERA5","year":2020.42,"v":10.12},{"src":"ERA5","year":2020.6,"v":10.3},{"src":"ERA5","year":2020.78,"v":10.57},{"src":"ERA5","year":2020.96,"v":10.93},{"src":"ERA5","year":2021.14,"v":11.11},{"src":"ERA5","year":2021.32,"v":11.11},{"src":"ERA5","year":2021.5,"v":11.02},{"src":"ERA5","year":2021.69,"v":10.93},{"src":"ERA5","year":2021.87,"v":10.75},{"src":"ERA5","year":2022.05,"v":10.48},{"src":"ERA5","year":2022.23,"v":10.39},{"src":"ERA5","year":2022.41,"v":10.3},{"src":"ERA5","year":2022.59,"v":10.3},{"src":"ERA5","year":2022.77,"v":10.03},{"src":"ERA5","year":2022.95,"v":9.75},{"src":"ERA5","year":2023.13,"v":9.48},{"src":"ERA5","year":2023.25,"v":9.39}
]
},
"vconcat": [
{
  "width": 829, "height": 195,
  "layer": [
    {"data": {"values": [{}]}, "mark": {"type": "rule", "color": "#808080", "strokeWidth": 1.6},
     "encoding": {"y": {"datum": 0, "type": "quantitative", "scale": {"domain": [-1.4, 6.25], "nice": false, "zero": false},
       "axis": {"orient": "right", "values": [0, 2, 4, 6], "title": "Monthly MBD (%)", "tickSize": 7, "labelPadding": 9, "titlePadding": 10, "grid": false}}}},
    {"data": {"values": [{}]}, "mark": {"type": "rule", "opacity": 0},
     "encoding": {"y": {"datum": 0, "type": "quantitative", "scale": {"domain": [-1.4, 6.25], "nice": false, "zero": false},
       "axis": {"orient": "right", "values": [-1, 1, 3, 5], "labels": false, "title": null, "tickSize": 4, "grid": false}}}},
    {"data": {"name": "mbd"}, "mark": {"type": "line", "strokeWidth": 1.9, "clip": true},
     "encoding": {
       "x": {"field": "year", "type": "quantitative", "scale": {"domain": [1994, 2024], "nice": false, "zero": false},
         "axis": {"orient": "bottom", "values": [1994,1995,1996,1997,1998,1999,2000,2001,2002,2003,2004,2005,2006,2007,2008,2009,2010,2011,2012,2013,2014,2015,2016,2017,2018,2019,2020,2021,2022,2023,2024], "labels": false, "tickSize": 4, "grid": true, "title": null}},
       "y": {"field": "v", "type": "quantitative", "scale": {"domain": [-2, 9], "nice": false, "zero": false},
         "axis": {"orient": "left", "values": [-2, 0, 2, 4, 6, 8], "grid": true, "title": "Monthly MBD (W/m²)", "tickSize": 7, "labelPadding": 9, "titlePadding": 12}},
       "color": {"field": "src", "type": "nominal",
         "scale": {"domain": ["Solargis-3.2", "SARAH-3", "CLARA-A3", "CEBAF-4.2.1", "ERA5"], "range": ["#b52b2b", "#3c7fb8", "#55ad4f", "#a35bb5", "#f5922a"]},
         "legend": {"orient": "none", "legendX": 85, "legendY": 3, "direction": "horizontal", "title": null, "symbolType": "stroke", "symbolSize": 900, "symbolStrokeWidth": 2, "labelFontSize": 14.5, "labelFont": "Liberation Sans", "labelColor": "#222", "columnPadding": 24.5, "labelOffset": 10}}
     }},
    {"data": {"values": [{}]}, "mark": {"type": "text", "text": "a", "fontWeight": "bold", "fontSize": 16, "font": "Liberation Sans", "color": "#111"},
     "encoding": {
       "x": {"datum": 2023.55, "type": "quantitative", "axis": {"orient": "bottom", "values": [1994, 1999, 2004, 2009, 2014, 2019, 2024], "labels": false, "tickSize": 7, "grid": false, "title": null}},
       "y": {"datum": 8.4, "type": "quantitative", "scale": {"domain": [-2, 9], "nice": false, "zero": false}, "axis": null}
     }}
  ],
  "resolve": {"scale": {"y": "independent"}, "axis": {"x": "independent"}}
},
{
  "width": 829, "height": 194,
  "layer": [
    {"data": {"values": [{}]}, "mark": {"type": "rule", "opacity": 0},
     "encoding": {"y": {"datum": 4, "type": "quantitative", "scale": {"domain": [2.8, 10.12], "nice": false, "zero": false},
       "axis": {"orient": "right", "values": [4, 6, 8, 10], "title": "Monthly RMSD (%)", "tickSize": 7, "labelPadding": 9, "titlePadding": 10, "grid": false}}}},
    {"data": {"values": [{}]}, "mark": {"type": "rule", "opacity": 0},
     "encoding": {"y": {"datum": 4, "type": "quantitative", "scale": {"domain": [2.8, 10.12], "nice": false, "zero": false},
       "axis": {"orient": "right", "values": [3, 5, 7, 9], "labels": false, "title": null, "tickSize": 4, "grid": false}}}},
    {"data": {"name": "rmsd"}, "mark": {"type": "line", "strokeWidth": 1.9, "clip": true},
     "encoding": {
       "x": {"field": "year", "type": "quantitative", "scale": {"domain": [1994, 2024], "nice": false, "zero": false},
         "axis": {"orient": "bottom", "values": [1994,1995,1996,1997,1998,1999,2000,2001,2002,2003,2004,2005,2006,2007,2008,2009,2010,2011,2012,2013,2014,2015,2016,2017,2018,2019,2020,2021,2022,2023,2024], "labels": false, "tickSize": 4, "grid": true, "title": null}},
       "y": {"field": "v", "type": "quantitative", "scale": {"domain": [4, 14.55], "nice": false, "zero": false},
         "axis": {"orient": "left", "values": [4, 6, 8, 10, 12, 14], "grid": true, "title": "Monthly RMSD (W/m²)", "tickSize": 7, "labelPadding": 9, "titlePadding": 12}},
       "color": {"field": "src", "type": "nominal",
         "scale": {"domain": ["Solargis-3.2", "SARAH-3", "CLARA-A3", "CEBAF-4.2.1", "ERA5"], "range": ["#b52b2b", "#3c7fb8", "#55ad4f", "#a35bb5", "#f5922a"]},
         "legend": null}
     }},
    {"data": {"values": [{}]}, "mark": {"type": "text", "text": "b", "fontWeight": "bold", "fontSize": 16, "font": "Liberation Sans", "color": "#111"},
     "encoding": {
       "x": {"datum": 2023.55, "type": "quantitative", "axis": {"orient": "bottom", "values": [1994, 1999, 2004, 2009, 2014, 2019, 2024], "format": "d", "tickSize": 7, "labelPadding": 9, "grid": false, "title": "Year", "titlePadding": 7}},
       "y": {"datum": 14.0, "type": "quantitative", "scale": {"domain": [4, 14.55], "nice": false, "zero": false}, "axis": null}
     }}
  ],
  "resolve": {"scale": {"y": "independent"}, "axis": {"x": "independent"}}
}
]
}
